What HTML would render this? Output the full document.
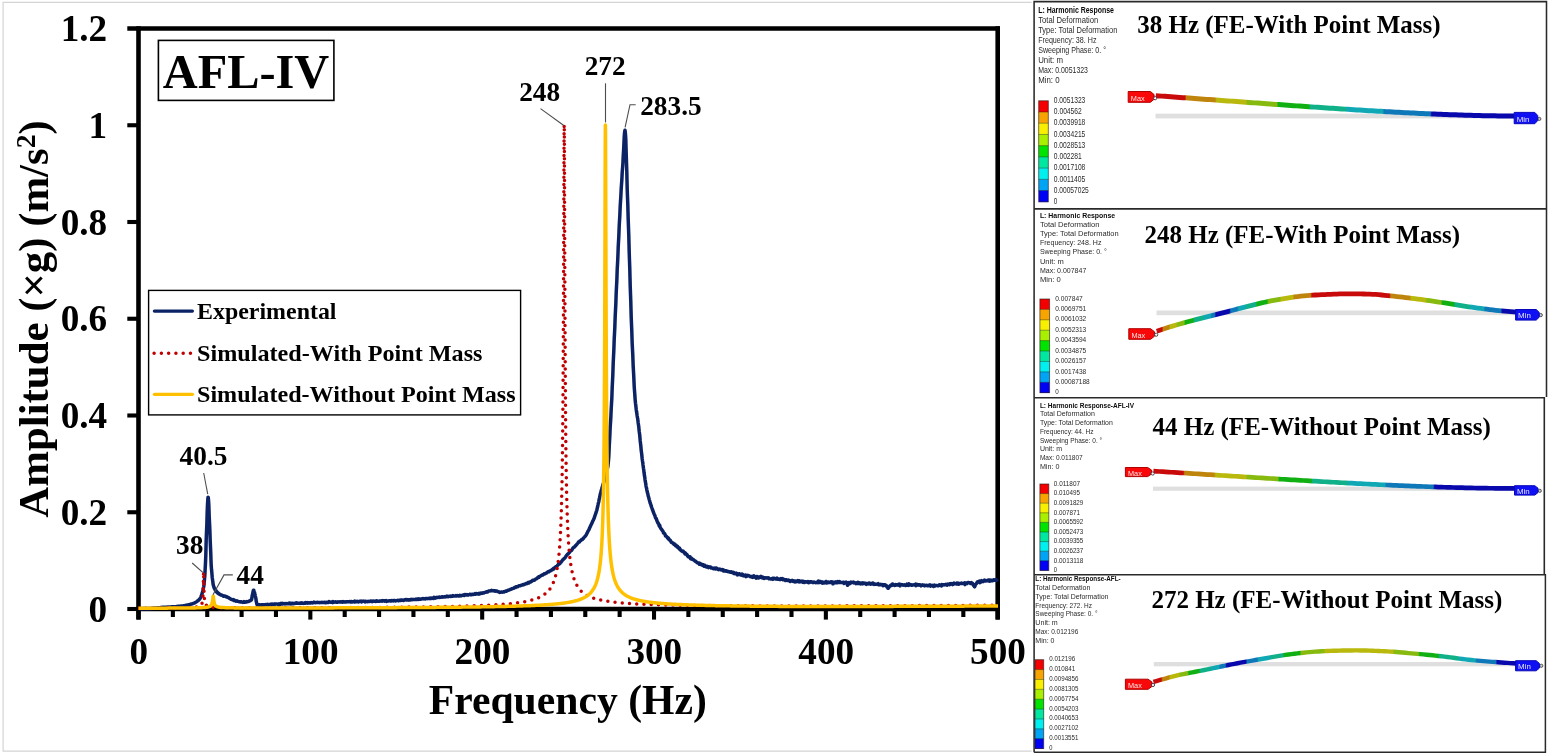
<!DOCTYPE html>
<html lang="en">
<head>
<meta charset="utf-8">
<title>AFL-IV frequency response</title>
<style>
html,body{margin:0;padding:0;background:#fff;}
body{width:1548px;height:755px;overflow:hidden;}
svg{display:block;}
</style>
</head>
<body>
<svg width="1548" height="755" viewBox="0 0 1548 755">
<rect x="0" y="0" width="1548" height="755" fill="#ffffff"/>
<path d="M1031.6 2.4H3.1V751.1H1031.6" fill="none" stroke="#d4d4d4" stroke-width="1.2"/>
<g stroke="#000" fill="none" stroke-width="4.6" stroke-linecap="butt">
<path d="M127.3 28.5H1000"/>
<path d="M138.5 26.2V619.6"/>
<path d="M997.7 26.2V619.4"/>
</g>
<path d="M136.2 609H1000" stroke="#000" stroke-width="4.6" fill="none"/>
<g fill="none" stroke-linejoin="round">
<path d="M138.5 609.1L139.0 609.0L139.5 609.0L140.0 609.0L140.5 608.9L141.0 608.9L141.5 608.9L142.0 608.8L142.5 608.9L143.0 608.9L143.5 608.8L144.0 608.8L144.5 608.8L145.0 608.8L145.5 608.8L146.0 608.7L146.5 608.8L147.0 608.7L147.5 608.7L148.0 608.6L148.5 608.8L149.0 608.7L149.5 608.6L150.0 608.7L150.5 608.6L151.0 608.5L151.5 608.5L152.0 608.3L152.5 608.5L153.0 608.3L153.5 608.3L154.0 608.3L154.5 608.1L155.0 608.2L155.5 608.0L156.0 608.0L156.5 607.9L157.0 608.0L157.5 607.9L158.0 607.8L158.5 607.8L159.0 607.7L159.5 607.7L160.0 607.6L160.5 607.5L161.0 607.4L161.5 607.5L162.0 607.6L162.5 607.4L163.0 607.3L163.5 607.4L164.0 607.3L164.5 607.3L165.0 607.3L165.5 607.2L166.0 607.2L166.5 607.1L167.0 607.2L167.5 607.1L168.0 607.1L168.5 607.0L169.0 606.9L169.5 607.0L170.0 607.0L170.5 606.9L171.0 606.9L171.5 606.8L172.0 606.8L172.5 606.8L173.0 606.7L173.5 606.8L174.0 606.7L174.5 606.7L175.0 606.7L175.5 606.7L176.0 606.6L176.5 606.5L177.0 606.5L177.5 606.4L178.0 606.3L178.5 606.4L179.0 606.3L179.5 606.3L180.0 606.2L180.5 606.1L181.0 606.1L181.5 606.0L182.0 606.0L182.5 606.0L183.0 605.9L183.5 605.8L184.0 605.7L184.5 605.6L185.0 605.5L185.5 605.4L186.0 605.3L186.5 605.4L187.0 605.2L187.5 605.0L188.0 604.9L188.5 604.8L189.0 604.7L189.5 604.6L190.0 604.4L190.5 604.3L191.0 604.1L191.5 604.1L192.0 603.9L192.5 603.8L193.0 603.5L193.5 603.3L194.0 603.2L194.5 603.0L195.0 602.7L195.5 602.3L196.0 602.1L196.5 601.8L196.8 601.6L197.0 601.4L197.2 601.3L197.5 601.0L197.8 600.8L198.0 600.7L198.2 600.4L198.5 600.2L198.8 600.0L199.0 599.8L199.2 599.5L199.5 599.3L199.8 598.9L200.0 598.6L200.2 598.2L200.5 597.7L200.8 597.3L201.0 596.7L201.2 596.0L201.5 595.5L201.8 594.6L202.0 593.8L202.2 593.1L202.5 592.1L202.8 591.2L203.0 590.0L203.2 588.9L203.5 587.6L203.8 586.3L204.0 584.5L204.2 582.1L204.5 579.3L204.8 576.0L205.0 572.4L205.2 568.4L205.5 562.9L205.8 555.7L206.0 547.7L206.2 539.7L206.5 532.1L206.8 525.7L207.0 518.6L207.2 511.3L207.5 504.7L207.8 499.8L208.0 497.2L208.2 497.2L208.5 499.9L208.8 504.3L209.0 509.9L209.2 516.2L209.5 522.5L209.8 528.5L210.0 534.1L210.2 540.6L210.5 547.4L210.8 554.2L211.0 560.3L211.2 565.5L211.5 569.3L211.8 572.2L212.0 574.7L212.2 577.2L212.5 579.4L212.8 581.4L213.0 583.2L213.2 584.7L213.5 585.9L213.8 586.7L214.0 587.4L214.2 588.0L214.5 588.5L214.8 589.1L215.0 589.5L215.2 589.7L215.5 590.6L215.8 590.5L216.0 590.6L216.2 591.8L216.5 591.3L216.8 592.1L217.0 592.5L217.2 592.5L217.5 592.4L217.8 593.2L218.0 592.8L218.2 593.0L218.5 593.4L218.8 593.9L219.0 593.9L219.2 594.2L219.5 594.1L219.8 594.3L220.0 594.2L220.2 594.5L220.5 594.8L220.8 594.7L221.0 595.0L221.2 594.9L221.5 595.0L221.8 595.2L222.0 595.3L222.5 595.6L223.0 595.7L223.5 596.2L224.0 595.9L224.5 596.0L225.0 596.0L225.5 596.4L226.0 596.7L226.5 596.6L227.0 596.9L227.5 597.3L228.0 597.4L228.5 597.5L229.0 598.1L229.5 598.2L230.0 598.6L230.5 599.0L231.0 599.3L231.5 599.3L232.0 599.5L232.5 599.9L233.0 600.0L233.5 599.7L234.0 600.6L234.5 600.5L235.0 600.8L235.5 600.5L236.0 601.2L236.5 600.9L237.0 601.1L237.5 601.0L238.0 601.4L238.5 601.5L239.0 601.6L239.5 601.8L240.0 601.8L240.5 602.1L241.0 601.8L241.5 601.8L242.0 602.0L242.5 602.2L243.0 602.4L243.5 602.3L244.0 601.7L244.5 602.1L245.0 602.3L245.5 602.0L246.0 601.8L246.5 601.9L247.0 601.6L247.5 601.7L248.0 601.5L248.5 601.6L249.0 601.2L249.5 600.8L250.0 600.8L250.5 600.7L250.8 600.2L251.0 600.1L251.2 599.6L251.5 599.8L251.8 598.5L252.0 596.9L252.2 595.6L252.5 594.4L252.8 593.2L253.0 591.8L253.2 591.0L253.5 590.2L253.8 590.2L254.0 591.0L254.2 591.6L254.5 592.3L254.8 593.7L255.0 594.3L255.2 595.5L255.5 596.9L255.8 598.2L256.0 599.2L256.2 601.2L256.5 602.3L256.8 603.9L257.0 604.7L257.2 604.7L257.5 605.1L257.8 605.2L258.0 605.0L258.2 605.0L258.5 605.3L258.8 604.7L259.0 604.7L259.5 604.8L260.0 604.7L260.5 605.3L261.0 605.0L261.5 604.7L262.0 604.8L262.5 605.5L263.0 604.7L263.5 604.7L264.0 604.9L264.5 604.9L265.0 604.8L265.5 604.6L266.0 604.5L266.5 604.8L267.0 604.7L267.5 604.3L268.0 604.9L268.5 604.8L269.0 604.5L269.5 604.5L270.0 604.5L270.5 604.3L271.0 604.1L271.5 604.5L272.0 604.1L272.5 604.4L273.0 604.0L273.5 604.3L274.0 604.2L274.5 604.6L275.0 604.0L275.5 603.9L276.0 604.0L276.5 603.9L277.0 604.0L277.5 604.2L278.0 604.2L278.5 604.4L279.0 603.8L279.5 604.6L280.0 604.4L280.5 603.9L281.0 603.4L281.5 603.9L282.0 603.9L282.5 603.4L283.0 603.9L283.5 603.8L284.0 603.6L284.5 603.9L285.0 604.0L285.5 603.6L286.0 603.8L286.5 603.6L287.0 603.5L287.5 603.7L288.0 603.8L288.5 603.5L289.0 603.1L289.5 603.7L290.0 603.2L290.5 603.6L291.0 603.9L291.5 603.5L292.0 603.2L292.5 603.2L293.0 603.7L293.5 603.4L294.0 603.5L294.5 603.6L295.0 603.4L295.5 603.3L296.0 603.1L296.5 602.7L297.0 603.0L297.5 603.3L298.0 603.2L298.5 603.3L299.0 603.2L299.5 603.3L300.0 603.4L300.5 603.0L301.0 603.1L301.5 602.8L302.0 603.3L302.5 603.1L303.0 603.2L303.5 603.4L304.0 603.3L304.5 603.0L305.0 603.2L305.5 602.7L306.0 603.1L306.5 603.0L307.0 602.6L307.5 603.2L308.0 602.8L308.5 603.1L309.0 602.8L309.5 603.1L310.0 603.1L310.5 602.7L311.0 602.5L311.5 602.8L312.0 603.0L312.5 602.7L313.0 602.6L313.5 602.8L314.0 602.1L314.5 602.6L315.0 602.4L315.5 602.7L316.0 602.5L316.5 602.4L317.0 602.6L317.5 602.3L318.0 602.6L318.5 602.4L319.0 602.5L319.5 602.4L320.0 602.7L320.5 602.5L321.0 602.6L321.5 602.6L322.0 602.3L322.5 602.6L323.0 602.5L323.5 602.5L324.0 602.3L324.5 602.3L325.0 602.6L325.5 602.8L326.0 602.2L326.5 602.5L327.0 602.2L327.5 602.5L328.0 602.4L328.5 602.5L329.0 601.6L329.5 602.1L330.0 602.0L330.5 602.2L331.0 602.0L331.5 602.1L332.0 602.3L332.5 602.6L333.0 601.5L333.5 602.1L334.0 602.2L334.5 602.1L335.0 602.0L335.5 601.8L336.0 601.9L336.5 602.2L337.0 602.3L337.5 602.1L338.0 601.8L338.5 602.0L339.0 601.9L339.5 602.1L340.0 602.0L340.5 601.8L341.0 602.0L341.5 601.7L342.0 602.1L342.5 602.2L343.0 601.6L343.5 602.0L344.0 601.7L344.5 602.1L345.0 602.0L345.5 601.8L346.0 602.0L346.5 601.7L347.0 601.7L347.5 601.7L348.0 601.8L348.5 601.7L349.0 601.8L349.5 601.6L350.0 601.9L350.5 602.0L351.0 601.6L351.5 601.4L352.0 601.9L352.5 601.9L353.0 601.7L353.5 601.4L354.0 601.7L354.5 602.0L355.0 601.2L355.5 601.7L356.0 601.6L356.5 601.4L357.0 601.7L357.5 601.3L358.0 601.7L358.5 601.9L359.0 601.6L359.5 601.4L360.0 601.2L360.5 601.3L361.0 601.1L361.5 601.9L362.0 601.5L362.5 601.3L363.0 601.2L363.5 601.3L364.0 601.4L364.5 601.2L365.0 601.8L365.5 601.3L366.0 601.3L366.5 601.5L367.0 601.7L367.5 601.7L368.0 601.3L368.5 601.4L369.0 601.4L369.5 601.5L370.0 601.4L370.5 601.1L371.0 601.1L371.5 601.4L372.0 601.0L372.5 601.6L373.0 601.3L373.5 601.0L374.0 601.2L374.5 601.1L375.0 601.2L375.5 601.4L376.0 600.9L376.5 600.8L377.0 601.3L377.5 601.1L378.0 601.2L378.5 601.2L379.0 601.1L379.5 601.3L380.0 600.9L380.5 601.1L381.0 600.9L381.5 600.8L382.0 601.2L382.5 601.1L383.0 600.6L383.5 600.7L384.0 601.0L384.5 601.2L385.0 600.8L385.5 600.9L386.0 600.6L386.5 601.4L387.0 601.0L387.5 601.0L388.0 601.0L388.5 601.0L389.0 600.9L389.5 600.7L390.0 600.9L390.5 600.7L391.0 601.0L391.5 600.5L392.0 600.5L392.5 600.8L393.0 600.9L393.5 600.6L394.0 600.4L394.5 600.5L395.0 600.4L395.5 600.9L396.0 600.7L396.5 600.7L397.0 600.5L397.5 600.3L398.0 600.6L398.5 600.7L399.0 600.4L399.5 600.3L400.0 600.5L400.5 600.1L401.0 600.4L401.5 600.0L402.0 599.9L402.5 600.2L403.0 600.2L403.5 600.5L404.0 600.0L404.5 600.0L405.0 599.7L405.5 599.5L406.0 599.5L406.5 600.0L407.0 599.6L407.5 600.1L408.0 600.1L408.5 599.7L409.0 600.1L409.5 599.8L410.0 599.9L410.5 599.6L411.0 599.8L411.5 599.4L412.0 599.7L412.5 599.4L413.0 599.5L413.5 599.6L414.0 599.5L414.5 599.4L415.0 599.5L415.5 599.5L416.0 599.0L416.5 599.4L417.0 599.4L417.5 599.1L418.0 599.3L418.5 598.9L419.0 599.4L419.5 599.0L420.0 599.0L420.5 599.3L421.0 599.0L421.5 599.1L422.0 598.7L422.5 598.8L423.0 598.5L423.5 598.8L424.0 599.0L424.5 598.8L425.0 598.9L425.5 598.4L426.0 598.4L426.5 598.5L427.0 598.7L427.5 598.6L428.0 598.4L428.5 598.5L429.0 598.3L429.5 598.3L430.0 598.6L430.5 598.1L431.0 598.2L431.5 598.5L432.0 598.1L432.5 598.2L433.0 597.9L433.5 598.4L434.0 597.4L434.5 597.6L435.0 597.6L435.5 598.1L436.0 597.8L436.5 597.6L437.0 597.3L437.5 597.6L438.0 597.5L438.5 597.3L439.0 597.1L439.5 597.1L440.0 597.4L440.5 597.3L441.0 597.2L441.5 597.1L442.0 596.7L442.5 597.1L443.0 596.8L443.5 597.0L444.0 597.0L444.5 596.7L445.0 596.6L445.5 597.0L446.0 596.8L446.5 596.5L447.0 596.0L447.5 596.6L448.0 596.7L448.5 596.7L449.0 596.3L449.5 596.3L450.0 596.3L450.5 596.5L451.0 596.0L451.5 596.2L452.0 596.0L452.5 596.2L453.0 595.7L453.5 596.1L454.0 595.9L454.5 595.9L455.0 596.0L455.5 596.1L456.0 595.5L456.5 596.0L457.0 595.9L457.5 595.6L458.0 596.0L458.5 595.7L459.0 595.9L459.5 595.4L460.0 595.3L460.5 595.7L461.0 595.9L461.5 595.5L462.0 595.5L462.5 595.2L463.0 595.0L463.5 595.2L464.0 595.5L464.5 594.7L465.0 595.0L465.5 594.6L466.0 595.0L466.5 595.1L467.0 594.6L467.5 594.8L468.0 595.1L468.5 594.7L469.0 594.4L469.5 594.4L470.0 594.2L470.5 594.7L471.0 594.3L471.5 594.7L472.0 594.6L472.5 594.2L473.0 594.2L473.5 594.4L474.0 594.2L474.5 594.2L475.0 593.7L475.5 594.2L476.0 593.7L476.5 593.4L477.0 593.7L477.5 593.8L478.0 594.1L478.5 593.5L479.0 593.3L479.5 594.0L480.0 593.5L480.5 593.3L481.0 593.0L481.5 593.0L482.0 593.4L482.5 593.0L483.0 592.8L483.5 592.7L484.0 593.0L484.5 592.4L485.0 592.5L485.5 592.3L486.0 592.1L486.5 591.7L487.0 591.9L487.5 592.0L488.0 591.5L488.5 591.1L489.0 590.9L489.5 591.1L490.0 590.9L490.5 590.8L491.0 590.8L491.5 590.4L492.0 590.8L492.5 590.7L493.0 590.6L493.5 590.7L494.0 590.9L494.5 590.8L495.0 590.7L495.5 591.2L496.0 591.0L496.5 591.1L497.0 591.1L497.5 591.6L498.0 591.5L498.5 591.7L499.0 592.1L499.5 592.1L500.0 592.4L500.5 592.3L501.0 592.1L501.5 592.1L502.0 592.0L502.5 592.2L503.0 592.0L503.5 591.8L504.0 592.0L504.5 591.7L505.0 591.5L505.5 591.1L506.0 591.3L506.5 591.1L507.0 590.9L507.5 590.6L508.0 590.3L508.5 590.2L509.0 590.1L509.5 589.8L510.0 589.6L510.5 589.3L511.0 589.3L511.5 589.0L512.0 588.6L512.5 588.7L513.0 588.5L513.5 588.3L514.0 587.9L514.5 587.6L515.0 587.2L515.5 587.5L516.0 586.7L516.5 586.9L517.0 586.7L517.5 586.8L518.0 586.4L518.5 586.1L519.0 585.8L519.5 585.8L520.0 585.8L520.5 585.6L521.0 585.4L521.5 585.1L522.0 585.0L522.5 585.1L523.0 584.5L523.5 584.6L524.0 584.7L524.5 584.3L525.0 583.9L525.5 584.0L526.0 583.5L526.5 583.4L527.0 583.6L527.5 583.5L528.0 582.5L528.5 582.8L529.0 582.9L529.5 582.1L530.0 582.1L530.5 582.1L531.0 581.5L531.5 581.4L532.0 581.1L532.5 580.4L533.0 580.6L533.5 580.3L534.0 580.2L534.5 580.2L535.0 579.6L535.5 579.1L536.0 579.0L536.5 578.6L537.0 578.5L537.5 577.7L538.0 577.4L538.5 576.9L539.0 577.2L539.5 576.7L540.0 576.3L540.5 576.0L541.0 575.7L541.5 575.3L542.0 575.2L542.5 574.8L543.0 575.0L543.5 574.4L544.0 573.9L544.5 573.7L545.0 573.8L545.5 573.4L546.0 573.1L546.5 573.0L547.0 572.9L547.5 572.1L548.0 571.9L548.5 571.5L549.0 571.7L549.5 571.2L550.0 570.9L550.5 570.5L551.0 570.6L551.5 570.0L552.0 569.6L552.5 569.7L553.0 568.8L553.5 568.4L554.0 568.8L554.5 567.8L555.0 567.4L555.5 566.9L556.0 566.6L556.5 566.4L557.0 566.0L557.5 565.5L558.0 564.9L558.5 564.2L559.0 564.1L559.5 563.9L560.0 563.3L560.5 562.5L561.0 562.2L561.5 561.4L562.0 560.9L562.5 560.1L563.0 559.7L563.5 559.2L564.0 558.6L564.5 558.2L565.0 557.9L565.5 557.1L566.0 556.2L566.5 555.5L567.0 555.0L567.5 554.3L568.0 554.0L568.5 553.5L569.0 552.9L569.5 552.3L570.0 551.8L570.5 551.1L571.0 550.4L571.5 550.4L572.0 549.7L572.5 548.7L573.0 548.1L573.5 547.6L574.0 547.2L574.5 546.9L575.0 546.3L575.5 545.8L576.0 545.2L576.5 544.7L577.0 544.1L577.5 543.5L578.0 542.9L578.5 542.0L579.0 541.9L579.5 541.9L580.0 540.9L580.5 540.5L581.0 540.5L581.5 539.8L582.0 539.3L582.5 539.3L583.0 538.7L583.5 538.2L584.0 537.4L584.5 537.1L585.0 536.4L585.5 535.8L586.0 535.2L586.5 534.3L587.0 533.2L587.5 532.4L588.0 531.1L588.5 530.5L589.0 529.5L589.5 528.2L590.0 527.1L590.5 526.2L591.0 524.9L591.5 524.1L592.0 523.0L592.5 521.6L593.0 520.7L593.5 519.7L594.0 518.5L594.5 517.2L595.0 515.5L595.5 514.1L596.0 512.6L596.5 511.1L596.8 510.4L597.0 509.4L597.2 508.4L597.5 507.3L597.8 505.9L598.0 504.9L598.2 503.7L598.5 502.8L598.8 501.6L599.0 500.2L599.2 499.1L599.5 498.0L599.8 496.7L600.0 495.6L600.2 494.5L600.5 493.6L600.8 492.4L601.0 491.7L601.2 490.6L601.5 489.8L601.8 489.1L602.0 488.0L602.2 487.1L602.5 486.5L602.8 485.5L603.0 484.8L603.2 484.0L603.5 483.3L603.8 482.3L604.0 481.6L604.2 480.8L604.5 480.0L604.8 478.7L605.0 478.2L605.2 477.2L605.5 476.0L605.8 475.1L606.0 474.5L606.2 473.5L606.5 472.7L606.8 471.8L607.0 470.6L607.2 469.5L607.5 468.2L607.8 466.8L608.0 465.3L608.2 463.4L608.5 460.4L608.8 456.6L609.0 452.3L609.2 447.1L609.5 441.8L609.8 436.5L610.0 431.9L610.2 427.2L610.5 422.7L610.8 418.1L611.0 413.6L611.2 409.0L611.5 403.9L611.8 398.8L612.0 393.5L612.2 387.6L612.5 381.6L612.8 375.5L613.0 369.2L613.2 363.3L613.5 357.0L613.8 351.2L614.0 345.5L614.2 339.4L614.5 333.8L614.8 327.9L615.0 321.9L615.2 316.2L615.5 310.3L615.8 304.6L616.0 298.8L616.2 292.7L616.5 287.0L616.8 281.3L617.0 275.6L617.2 269.5L617.5 264.3L617.8 258.5L618.0 253.2L618.2 247.4L618.5 242.0L618.8 236.7L619.0 231.6L619.2 226.3L619.5 220.9L619.8 216.3L620.0 211.1L620.2 206.4L620.5 201.7L620.8 197.1L621.0 192.8L621.2 188.6L621.5 184.5L621.8 180.6L622.0 176.6L622.2 172.5L622.5 168.8L622.8 165.1L623.0 161.1L623.2 156.6L623.5 151.8L623.8 146.7L624.0 141.7L624.2 137.2L624.5 133.3L624.8 130.9L625.0 130.2L625.2 131.4L625.5 134.7L625.8 139.4L626.0 146.3L626.2 153.7L626.5 162.6L626.8 171.5L627.0 180.4L627.2 189.0L627.5 197.2L627.8 204.3L628.0 211.9L628.2 219.6L628.5 227.6L628.8 235.7L629.0 243.9L629.2 252.1L629.5 260.7L629.8 269.1L630.0 277.4L630.2 285.8L630.5 293.9L630.8 301.7L631.0 309.6L631.2 317.1L631.5 324.2L631.8 331.3L632.0 337.7L632.2 343.8L632.5 349.6L632.8 355.4L633.0 361.0L633.2 366.7L633.5 371.7L633.8 376.9L634.0 381.6L634.2 386.3L634.5 390.6L634.8 394.4L635.0 397.6L635.2 400.5L635.5 403.2L635.8 405.4L636.0 407.6L636.2 409.3L636.5 411.4L636.8 413.1L637.0 414.7L637.2 416.1L637.5 417.8L637.8 419.5L638.0 421.2L638.2 423.0L638.5 425.0L638.8 427.1L639.0 429.4L639.2 431.3L639.5 433.6L639.8 436.0L640.0 438.4L640.2 440.7L640.5 443.4L640.8 445.7L641.0 448.0L641.2 450.3L641.5 452.6L641.8 454.9L642.0 457.0L642.2 459.0L642.5 461.1L642.8 462.7L643.0 465.0L643.2 466.3L643.5 468.5L643.8 470.3L644.0 472.3L644.2 473.8L644.5 476.0L644.8 477.3L645.0 479.4L645.2 480.9L645.5 482.4L645.8 484.0L646.0 485.7L646.2 486.9L646.5 487.9L646.8 489.6L647.0 490.6L647.2 491.5L647.5 492.9L647.8 493.7L648.0 494.9L648.2 496.0L648.5 496.8L648.8 497.9L649.0 498.7L649.2 499.7L649.5 500.5L649.8 501.4L650.0 502.5L650.2 503.1L650.5 503.7L650.8 504.6L651.0 505.3L651.2 506.1L651.5 506.9L651.8 507.6L652.0 508.3L652.2 508.9L652.5 509.8L652.8 510.5L653.0 511.0L653.2 511.7L653.5 512.4L653.8 513.2L654.0 513.8L654.2 514.2L654.5 514.9L654.8 515.4L655.0 515.8L655.2 516.7L655.5 517.6L655.8 518.3L656.0 518.3L656.2 518.5L656.5 519.7L656.8 520.1L657.0 520.8L657.2 521.3L657.5 522.0L657.8 522.5L658.0 523.1L658.2 523.0L658.5 524.1L658.8 524.0L659.0 524.7L659.2 525.9L659.5 525.7L659.8 525.6L660.0 527.1L660.5 527.8L661.0 528.7L661.5 529.2L662.0 530.1L662.5 530.7L663.0 531.3L663.5 532.9L664.0 532.9L664.5 533.6L665.0 534.3L665.5 536.0L666.0 536.2L666.5 536.4L667.0 537.1L667.5 537.9L668.0 538.6L668.5 538.2L669.0 539.7L669.5 539.8L670.0 540.1L670.5 540.7L671.0 541.7L671.5 542.5L672.0 542.4L672.5 543.0L673.0 542.9L673.5 543.8L674.0 544.4L674.5 543.9L675.0 544.7L675.5 545.6L676.0 545.0L676.5 546.0L677.0 546.8L677.5 546.3L678.0 547.2L678.5 547.8L679.0 548.6L679.5 548.2L680.0 549.6L680.5 549.7L681.0 550.5L681.5 550.9L682.0 551.0L682.5 551.5L683.0 551.0L683.5 551.6L684.0 552.2L684.5 552.9L685.0 553.8L685.5 553.2L686.0 554.2L686.5 554.2L687.0 554.5L687.5 556.1L688.0 556.0L688.5 557.0L689.0 557.2L689.5 556.7L690.0 556.7L690.5 558.7L691.0 558.0L691.5 558.1L692.0 559.2L692.5 559.3L693.0 559.3L693.5 559.8L694.0 560.3L694.5 560.6L695.0 561.2L695.5 561.1L696.0 561.5L696.5 562.2L697.0 562.4L697.5 563.0L698.0 562.8L698.5 563.1L699.0 563.0L699.5 564.3L700.0 563.4L700.5 564.3L701.0 564.1L701.5 564.8L702.0 565.2L702.5 564.5L703.0 565.2L703.5 564.8L704.0 566.2L704.5 565.7L705.0 565.4L705.5 565.9L706.0 566.8L706.5 567.0L707.0 567.1L707.5 566.4L708.0 566.8L708.5 567.6L709.0 566.8L709.5 567.1L710.0 566.9L710.5 567.0L711.0 568.0L711.5 567.9L712.0 567.9L712.5 568.1L713.0 568.4L713.5 568.7L714.0 568.2L714.5 568.1L715.0 568.0L715.5 568.9L716.0 568.4L716.5 568.1L717.0 568.7L717.5 568.9L718.0 569.4L718.5 569.6L719.0 569.0L719.5 569.1L720.0 569.4L720.5 569.2L721.0 569.7L721.5 570.1L722.0 570.1L722.5 569.5L723.0 569.8L723.5 571.0L724.0 570.2L724.5 571.0L725.0 571.1L725.5 570.9L726.0 570.7L726.5 571.3L727.0 571.0L727.5 571.5L728.0 571.7L728.5 571.5L729.0 571.8L729.5 571.9L730.0 571.7L730.5 572.3L731.0 572.2L731.5 571.9L732.0 572.6L732.5 572.7L733.0 572.7L733.5 572.3L734.0 573.5L734.5 573.6L735.0 573.7L735.5 573.7L736.0 573.2L736.5 573.8L737.0 573.5L737.5 574.9L738.0 573.9L738.5 574.5L739.0 573.7L739.5 573.9L740.0 574.3L740.5 574.9L741.0 574.9L741.5 574.9L742.0 574.1L742.5 575.4L743.0 574.7L743.5 575.8L744.0 576.0L744.5 575.6L745.0 575.8L745.5 575.0L746.0 576.6L746.5 575.7L747.0 576.1L747.5 575.4L748.0 575.8L748.5 575.5L749.0 575.9L749.5 576.1L750.0 576.3L750.5 576.8L751.0 576.5L751.5 576.5L752.0 576.5L752.5 577.3L753.0 576.4L753.5 577.1L754.0 575.9L754.5 576.4L755.0 577.0L755.5 576.9L756.0 578.2L756.5 578.1L757.0 576.5L757.5 576.7L758.0 577.2L758.5 578.0L759.0 577.8L759.5 577.5L760.0 576.9L760.5 577.1L761.0 576.4L761.5 576.9L762.0 577.8L762.5 578.0L763.0 577.2L763.5 577.8L764.0 578.4L764.5 577.9L765.0 577.7L765.5 578.1L766.0 578.1L766.5 578.0L767.0 577.8L767.5 577.9L768.0 578.1L768.5 577.9L769.0 578.7L769.5 578.5L770.0 578.6L770.5 579.0L771.0 578.9L771.5 578.9L772.0 578.5L772.5 578.3L773.0 579.3L773.5 578.2L774.0 578.2L774.5 578.2L775.0 578.7L775.5 578.8L776.0 579.1L776.5 578.6L777.0 578.0L777.5 578.9L778.0 579.2L778.5 578.9L779.0 578.9L779.5 579.2L780.0 579.6L780.5 579.1L781.0 578.6L781.5 579.0L782.0 579.3L782.5 578.7L783.0 579.8L783.5 579.2L784.0 579.8L784.5 579.8L785.0 579.7L785.5 580.5L786.0 579.7L786.5 579.8L787.0 580.3L787.5 580.6L788.0 580.3L788.5 580.0L789.0 580.8L789.5 580.8L790.0 581.5L790.5 580.7L791.0 580.9L791.5 580.7L792.0 580.4L792.5 581.1L793.0 581.5L793.5 580.8L794.0 581.0L794.5 580.9L795.0 581.9L795.5 581.2L796.0 581.7L796.5 581.2L797.0 581.6L797.5 581.4L798.0 580.7L798.5 581.7L799.0 581.9L799.5 580.9L800.0 581.7L800.5 581.6L801.0 581.4L801.5 581.7L802.0 581.1L802.5 582.0L803.0 582.4L803.5 581.4L804.0 581.9L804.5 582.5L805.0 582.0L805.5 581.8L806.0 581.7L806.5 582.1L807.0 582.0L807.5 582.3L808.0 581.5L808.5 582.6L809.0 582.0L809.5 582.4L810.0 581.9L810.5 581.7L811.0 582.0L811.5 581.8L812.0 582.1L812.5 582.5L813.0 582.7L813.5 582.3L814.0 582.0L814.5 582.1L815.0 582.5L815.5 582.7L816.0 582.2L816.5 582.2L817.0 582.0L817.5 582.4L818.0 582.7L818.5 581.1L819.0 582.4L819.5 582.1L820.0 581.4L820.5 582.4L821.0 582.3L821.5 582.4L822.0 581.8L822.5 583.2L823.0 582.3L823.5 582.2L824.0 582.9L824.5 582.6L825.0 582.6L825.5 582.8L826.0 581.5L826.5 583.0L827.0 582.2L827.5 582.4L828.0 582.7L828.5 582.0L829.0 582.4L829.5 582.6L830.0 582.3L830.5 582.5L831.0 581.7L831.5 581.8L832.0 581.8L832.5 582.4L833.0 583.8L833.5 582.4L834.0 582.2L834.5 582.3L835.0 582.7L835.5 582.6L836.0 581.8L836.5 582.7L837.0 582.3L837.5 582.6L838.0 581.5L838.5 581.7L839.0 582.5L839.5 581.6L840.0 582.5L840.5 582.4L841.0 582.4L841.5 582.5L842.0 582.4L842.5 582.5L843.0 582.2L843.5 582.3L844.0 583.5L844.5 582.8L845.0 582.6L845.5 582.5L846.0 582.1L846.5 582.6L847.0 583.6L847.5 585.3L848.0 584.7L848.5 583.1L849.0 582.6L849.5 582.9L850.0 583.6L850.5 583.0L851.0 582.2L851.5 582.5L852.0 582.3L852.5 582.6L853.0 582.3L853.5 582.1L854.0 582.9L854.5 582.8L855.0 582.7L855.5 583.0L856.0 583.7L856.5 582.9L857.0 582.8L857.5 583.3L858.0 582.4L858.5 583.4L859.0 582.8L859.5 582.8L860.0 583.2L860.5 583.9L861.0 583.0L861.5 583.7L862.0 583.5L862.5 582.8L863.0 583.8L863.5 583.1L864.0 582.9L864.5 583.2L865.0 583.3L865.5 583.9L866.0 583.4L866.5 584.3L867.0 583.8L867.5 583.5L868.0 583.5L868.5 583.9L869.0 583.0L869.5 583.0L870.0 583.5L870.5 584.2L871.0 584.0L871.5 584.0L872.0 583.9L872.5 583.1L873.0 583.9L873.5 583.3L874.0 584.4L874.5 584.1L875.0 584.1L875.5 584.3L876.0 584.3L876.5 584.3L877.0 584.4L877.5 584.0L878.0 583.7L878.5 584.5L879.0 584.9L879.5 584.8L880.0 584.3L880.5 584.7L881.0 584.4L881.5 584.7L882.0 584.4L882.5 584.7L883.0 585.6L883.5 585.1L884.0 585.5L884.5 584.7L885.0 584.8L885.5 585.1L886.0 585.5L886.5 585.7L887.0 587.0L887.5 587.1L888.0 588.3L888.5 588.1L889.0 586.8L889.5 586.8L890.0 585.8L890.5 585.8L891.0 585.1L891.5 585.4L892.0 585.4L892.5 584.0L893.0 584.3L893.5 585.1L894.0 585.0L894.5 585.4L895.0 585.1L895.5 584.5L896.0 585.1L896.5 584.7L897.0 584.9L897.5 584.8L898.0 585.1L898.5 584.4L899.0 584.6L899.5 584.1L900.0 585.9L900.5 584.6L901.0 584.7L901.5 584.5L902.0 584.7L902.5 584.8L903.0 585.2L903.5 585.1L904.0 585.1L904.5 584.8L905.0 585.0L905.5 585.5L906.0 585.0L906.5 585.1L907.0 584.2L907.5 585.2L908.0 585.1L908.5 585.5L909.0 583.9L909.5 585.0L910.0 584.9L910.5 585.0L911.0 584.7L911.5 585.1L912.0 585.3L912.5 585.0L913.0 584.9L913.5 584.9L914.0 584.8L914.5 585.0L915.0 584.7L915.5 584.2L916.0 585.6L916.5 584.3L917.0 585.0L917.5 584.6L918.0 585.0L918.5 584.7L919.0 585.1L919.5 584.8L920.0 584.7L920.5 585.3L921.0 585.8L921.5 585.4L922.0 585.3L922.5 584.9L923.0 585.3L923.5 585.5L924.0 585.1L924.5 585.8L925.0 585.4L925.5 585.6L926.0 585.3L926.5 585.3L927.0 585.6L927.5 585.7L928.0 585.7L928.5 585.2L929.0 585.3L929.5 585.6L930.0 584.9L930.5 586.1L931.0 585.8L931.5 585.7L932.0 585.4L932.5 586.0L933.0 585.6L933.5 586.4L934.0 585.8L934.5 585.1L935.0 586.0L935.5 585.4L936.0 585.4L936.5 585.5L937.0 585.5L937.5 585.7L938.0 585.8L938.5 585.7L939.0 585.1L939.5 584.8L940.0 585.0L940.5 585.4L941.0 585.6L941.5 585.9L942.0 584.6L942.5 585.1L943.0 584.9L943.5 584.8L944.0 584.9L944.5 584.7L945.0 584.7L945.5 584.4L946.0 584.8L946.5 585.0L947.0 585.2L947.5 584.2L948.0 584.0L948.5 584.2L949.0 584.0L949.5 584.6L950.0 583.9L950.5 584.2L951.0 583.6L951.5 583.9L952.0 584.1L952.5 584.6L953.0 583.7L953.5 584.1L954.0 583.0L954.5 583.4L955.0 583.5L955.5 583.6L956.0 583.9L956.5 584.0L957.0 583.0L957.5 583.8L958.0 583.2L958.5 584.3L959.0 583.7L959.5 583.6L960.0 583.4L960.5 583.4L961.0 583.4L961.5 583.1L962.0 583.6L962.5 583.4L963.0 583.6L963.5 583.2L964.0 583.5L964.5 582.9L965.0 584.6L965.5 582.9L966.0 582.9L966.5 583.5L967.0 583.6L967.5 582.7L968.0 582.4L968.5 582.5L969.0 582.6L969.5 582.7L970.0 582.9L970.5 583.4L971.0 583.4L971.5 582.7L972.0 583.2L972.5 583.4L973.0 584.5L973.5 585.2L974.0 586.1L974.5 586.8L975.0 586.2L975.5 584.2L976.0 584.1L976.5 583.6L977.0 582.5L977.5 581.8L978.0 582.0L978.5 581.9L979.0 582.1L979.5 581.1L980.0 582.6L980.5 582.4L981.0 581.1L981.5 580.5L982.0 581.1L982.5 581.3L983.0 581.6L983.5 581.2L984.0 580.8L984.5 580.1L985.0 581.0L985.5 581.1L986.0 580.6L986.5 580.8L987.0 580.8L987.5 580.6L988.0 580.2L988.5 580.8L989.0 580.0L989.5 581.1L990.0 580.2L990.5 580.8L991.0 580.2L991.5 580.7L992.0 580.4L992.5 580.7L993.0 580.2L993.5 579.8L994.0 580.3L994.5 580.3L995.0 579.8L995.5 580.1L996.0 579.7L996.5 580.4L996.8 580.2" stroke="#0b2265" stroke-width="3.5" stroke-linecap="round"/>
<path d="M138.50 608.20L140.00 608.20L141.50 608.19L143.00 608.19L144.50 608.18L146.00 608.18L147.50 608.17L149.00 608.16L150.50 608.16L152.00 608.15L153.50 608.14L155.00 608.13L156.50 608.13L158.00 608.12L159.50 608.11L161.00 608.10L162.50 608.09L164.00 608.08L165.50 608.07L167.00 608.06L168.50 608.05L170.00 608.03L171.50 608.02L173.00 608.01L174.50 607.99L176.00 607.97L177.50 607.95L179.00 607.93L180.50 607.91L182.00 607.88L183.50 607.85L185.00 607.81L186.50 607.77L188.00 607.73L189.50 607.67L191.00 607.60L192.50 607.51L193.60 607.43L194.00 607.39L194.10 607.39L194.60 607.34L195.10 607.28L195.50 607.24L195.60 607.22L195.70 607.21L195.80 607.20L195.90 607.19L196.00 607.17L196.10 607.16L196.20 607.14L196.30 607.13L196.40 607.11L196.50 607.10L196.60 607.08L196.70 607.06L196.80 607.05L196.90 607.03L197.00 607.01L197.10 606.99L197.20 606.97L197.30 606.95L197.40 606.93L197.50 606.91L197.60 606.89L197.70 606.87L197.80 606.84L197.90 606.82L198.00 606.79L198.10 606.77L198.20 606.74L198.30 606.71L198.40 606.68L198.50 606.65L198.60 606.62L198.70 606.59L198.80 606.55L198.90 606.52L199.00 606.48L199.10 606.44L199.20 606.40L199.30 606.36L199.40 606.32L199.50 606.27L199.60 606.22L199.70 606.17L199.80 606.12L199.90 606.06L200.00 606.00L200.10 605.94L200.20 605.87L200.30 605.80L200.40 605.72L200.50 605.64L200.60 605.56L200.70 605.47L200.80 605.37L200.90 605.26L201.00 605.15L201.10 605.03L201.12 605.00L201.14 604.98L201.16 604.95L201.18 604.93L201.20 604.90L201.22 604.87L201.24 604.84L201.26 604.81L201.28 604.78L201.30 604.76L201.32 604.73L201.34 604.69L201.36 604.66L201.38 604.63L201.40 604.60L201.42 604.57L201.44 604.53L201.46 604.50L201.48 604.46L201.50 604.43L201.52 604.39L201.54 604.36L201.56 604.32L201.58 604.28L201.60 604.24L201.62 604.20L201.64 604.16L201.66 604.12L201.68 604.08L201.70 604.04L201.72 603.99L201.74 603.95L201.76 603.90L201.78 603.85L201.80 603.81L201.82 603.76L201.84 603.71L201.86 603.66L201.88 603.61L201.90 603.55L201.92 603.50L201.94 603.44L201.96 603.38L201.98 603.33L202.00 603.27L202.02 603.20L202.04 603.14L202.06 603.08L202.08 603.01L202.10 602.94L202.12 602.87L202.14 602.80L202.16 602.73L202.18 602.65L202.20 602.58L202.22 602.50L202.24 602.41L202.26 602.33L202.28 602.24L202.30 602.15L202.32 602.06L202.34 601.97L202.36 601.87L202.38 601.77L202.40 601.66L202.42 601.56L202.44 601.45L202.46 601.33L202.48 601.21L202.50 601.09L202.52 600.97L202.54 600.83L202.56 600.70L202.58 600.56L202.60 600.41L202.62 600.26L202.64 600.10L202.66 599.94L202.68 599.77L202.70 599.59L202.72 599.41L202.74 599.21L202.76 599.01L202.78 598.80L202.80 598.59L202.82 598.36L202.84 598.12L202.86 597.87L202.88 597.60L202.90 597.33L202.92 597.04L202.94 596.73L202.96 596.41L202.98 596.07L203.00 595.72L203.02 595.34L203.04 594.94L203.06 594.52L203.08 594.07L203.10 593.59L203.12 593.09L203.14 592.55L203.16 591.98L203.18 591.37L203.20 590.72L203.22 590.03L203.24 589.29L203.26 588.50L203.28 587.65L203.30 586.75L203.32 585.79L203.34 584.77L203.36 583.69L203.38 582.55L203.40 581.36L203.42 580.12L203.44 578.86L203.46 577.60L203.48 576.35L203.50 575.18L203.52 574.11L203.54 573.20L203.56 572.51L203.58 572.07L203.60 571.92L203.62 572.07L203.64 572.51L203.66 573.20L203.68 574.11L203.70 575.18L203.72 576.35L203.74 577.60L203.76 578.86L203.78 580.12L203.80 581.36L203.82 582.55L203.84 583.69L203.86 584.77L203.88 585.79L203.90 586.75L203.92 587.65L203.94 588.49L203.96 589.29L203.98 590.03L204.00 590.72L204.02 591.37L204.04 591.98L204.06 592.55L204.08 593.09L204.10 593.59L204.12 594.07L204.14 594.51L204.16 594.94L204.18 595.34L204.20 595.71L204.22 596.07L204.24 596.41L204.26 596.73L204.28 597.04L204.30 597.33L204.32 597.60L204.34 597.86L204.36 598.11L204.38 598.35L204.40 598.58L204.42 598.80L204.44 599.01L204.46 599.21L204.48 599.40L204.50 599.59L204.52 599.76L204.54 599.93L204.56 600.10L204.58 600.26L204.60 600.41L204.62 600.55L204.64 600.69L204.66 600.83L204.68 600.96L204.70 601.09L204.72 601.21L204.74 601.33L204.76 601.44L204.78 601.55L204.80 601.66L204.82 601.76L204.84 601.86L204.86 601.96L204.88 602.06L204.90 602.15L204.92 602.24L204.94 602.32L204.96 602.41L204.98 602.49L205.00 602.57L205.02 602.65L205.04 602.72L205.06 602.80L205.08 602.87L205.10 602.94L205.12 603.00L205.14 603.07L205.16 603.13L205.18 603.20L205.20 603.26L205.22 603.32L205.24 603.38L205.26 603.43L205.28 603.49L205.30 603.54L205.32 603.60L205.34 603.65L205.36 603.70L205.38 603.75L205.40 603.80L205.42 603.85L205.44 603.89L205.46 603.94L205.48 603.98L205.50 604.03L205.52 604.07L205.54 604.11L205.56 604.15L205.58 604.19L205.60 604.23L205.62 604.27L205.64 604.31L205.66 604.35L205.68 604.38L205.70 604.42L205.72 604.46L205.74 604.49L205.76 604.52L205.78 604.56L205.80 604.59L205.82 604.62L205.84 604.65L205.86 604.68L205.88 604.71L205.90 604.74L205.92 604.77L205.94 604.80L205.96 604.83L205.98 604.86L206.00 604.89L206.02 604.91L206.04 604.94L206.06 604.97L206.08 604.99L206.10 605.02L206.20 605.14L206.30 605.25L206.40 605.36L206.50 605.45L206.60 605.54L206.70 605.63L206.80 605.71L206.90 605.78L207.00 605.85L207.10 605.92L207.20 605.98L207.30 606.04L207.40 606.10L207.50 606.15L207.60 606.20L207.70 606.25L207.80 606.30L207.90 606.34L208.00 606.38L208.10 606.42L208.20 606.46L208.30 606.50L208.40 606.53L208.50 606.57L208.60 606.60L208.70 606.63L208.80 606.66L208.90 606.69L209.00 606.72L209.10 606.74L209.20 606.77L209.30 606.79L209.40 606.82L209.50 606.84L209.60 606.86L209.70 606.88L209.80 606.90L209.90 606.92L210.00 606.94L210.10 606.96L210.20 606.98L210.30 607.00L210.40 607.02L210.50 607.03L210.60 607.05L210.70 607.07L210.80 607.08L210.90 607.10L211.00 607.11L211.10 607.12L211.20 607.14L211.30 607.15L211.40 607.16L211.50 607.18L211.60 607.19L212.00 607.24L212.10 607.25L212.60 607.30L213.10 607.34L213.50 607.38L213.60 607.38L215.00 607.48L216.50 607.56L218.00 607.62L219.50 607.67L221.00 607.71L222.50 607.74L224.00 607.77L225.50 607.79L227.00 607.81L228.50 607.83L230.00 607.84L231.50 607.85L233.00 607.86L234.50 607.87L236.00 607.88L237.50 607.89L239.00 607.89L240.50 607.90L242.00 607.90L243.50 607.91L245.00 607.91L246.50 607.91L248.00 607.91L249.50 607.91L251.00 607.92L252.50 607.92L254.00 607.92L255.50 607.92L257.00 607.92L258.50 607.92L260.00 607.92L261.50 607.91L263.00 607.91L264.50 607.91L266.00 607.91L267.50 607.91L269.00 607.91L270.50 607.90L272.00 607.90L273.50 607.90L275.00 607.90L276.50 607.89L278.00 607.89L279.50 607.89L281.00 607.88L282.50 607.88L284.00 607.88L285.50 607.87L287.00 607.87L288.50 607.87L290.00 607.86L291.50 607.86L293.00 607.85L294.50 607.85L296.00 607.84L297.50 607.84L299.00 607.83L300.50 607.83L302.00 607.83L303.50 607.82L305.00 607.81L306.50 607.81L308.00 607.80L309.50 607.80L311.00 607.79L312.50 607.79L314.00 607.78L315.50 607.78L317.00 607.77L318.50 607.76L320.00 607.76L321.50 607.75L323.00 607.74L324.50 607.74L326.00 607.73L327.50 607.72L329.00 607.72L330.50 607.71L332.00 607.70L333.50 607.70L335.00 607.69L336.50 607.68L338.00 607.67L339.50 607.66L341.00 607.66L342.50 607.65L344.00 607.64L345.50 607.63L347.00 607.62L348.50 607.62L350.00 607.61L351.50 607.60L353.00 607.59L354.50 607.58L356.00 607.57L357.50 607.56L359.00 607.55L360.50 607.54L362.00 607.53L363.50 607.52L365.00 607.51L366.50 607.50L368.00 607.49L369.50 607.48L371.00 607.47L372.50 607.46L374.00 607.45L375.50 607.43L377.00 607.42L378.50 607.41L380.00 607.40L381.50 607.39L383.00 607.37L384.50 607.36L386.00 607.35L387.50 607.33L389.00 607.32L390.50 607.31L392.00 607.29L393.50 607.28L395.00 607.26L396.50 607.25L398.00 607.23L399.50 607.22L401.00 607.20L402.50 607.19L404.00 607.17L405.50 607.15L407.00 607.14L408.50 607.12L410.00 607.10L411.50 607.08L413.00 607.07L414.50 607.05L416.00 607.03L417.50 607.01L419.00 606.99L420.50 606.97L422.00 606.95L423.50 606.93L425.00 606.90L426.50 606.88L428.00 606.86L429.50 606.84L431.00 606.81L432.50 606.79L434.00 606.76L435.50 606.74L437.00 606.71L438.50 606.68L440.00 606.66L441.50 606.63L443.00 606.60L444.50 606.57L446.00 606.54L447.50 606.51L449.00 606.48L450.50 606.45L452.00 606.41L453.50 606.38L455.00 606.34L456.50 606.31L458.00 606.27L459.50 606.23L461.00 606.19L462.50 606.15L464.00 606.11L465.50 606.06L467.00 606.02L468.50 605.97L470.00 605.93L471.50 605.88L473.00 605.83L474.50 605.77L476.00 605.72L477.50 605.66L479.00 605.61L480.50 605.54L482.00 605.48L483.50 605.42L485.00 605.35L486.50 605.28L488.00 605.21L489.50 605.13L491.00 605.05L492.50 604.97L494.00 604.89L495.50 604.80L497.00 604.71L498.50 604.61L500.00 604.51L501.50 604.40L503.00 604.29L504.20 604.19L504.50 604.17L504.70 604.15L505.20 604.11L505.70 604.07L506.00 604.05L506.20 604.03L506.70 603.99L507.20 603.94L507.50 603.92L507.70 603.90L508.20 603.85L508.70 603.81L509.00 603.78L509.20 603.76L509.70 603.71L510.20 603.66L510.50 603.63L510.70 603.61L511.20 603.56L511.70 603.51L512.00 603.48L512.20 603.46L512.70 603.41L513.20 603.35L513.50 603.32L513.70 603.30L514.20 603.24L514.70 603.18L515.00 603.15L515.20 603.12L515.70 603.06L516.20 603.00L516.50 602.96L516.70 602.94L517.20 602.87L517.70 602.81L518.00 602.77L518.20 602.74L518.70 602.67L519.20 602.60L519.50 602.56L519.70 602.53L520.20 602.46L520.70 602.38L521.00 602.34L521.20 602.31L521.70 602.23L522.20 602.15L522.50 602.10L522.70 602.07L523.20 601.98L523.70 601.89L524.00 601.84L524.20 601.81L524.70 601.72L525.20 601.62L525.50 601.57L525.70 601.53L526.20 601.43L526.70 601.33L527.00 601.27L527.20 601.23L527.70 601.12L528.20 601.01L528.50 600.94L528.70 600.90L529.20 600.78L529.70 600.66L530.00 600.59L530.20 600.54L530.70 600.42L531.20 600.29L531.50 600.21L531.70 600.15L532.20 600.02L532.70 599.87L533.00 599.79L533.20 599.73L533.70 599.57L534.20 599.42L534.50 599.32L534.70 599.26L535.20 599.09L535.70 598.92L536.00 598.81L536.20 598.74L536.70 598.55L537.20 598.36L537.50 598.24L537.70 598.16L538.20 597.95L538.70 597.73L539.00 597.60L539.20 597.51L539.70 597.27L540.20 597.03L540.50 596.88L540.70 596.78L541.20 596.51L541.70 596.23L542.00 596.06L542.20 595.95L542.70 595.64L543.20 595.33L543.50 595.13L543.70 594.99L544.20 594.64L544.70 594.28L545.00 594.05L545.20 593.89L545.70 593.48L546.20 593.05L546.50 592.78L546.70 592.60L547.20 592.12L547.70 591.61L548.00 591.29L548.20 591.06L548.70 590.49L549.20 589.87L549.50 589.48L549.70 589.21L550.20 588.51L550.70 587.75L551.00 587.27L551.20 586.94L551.70 586.06L552.20 585.11L552.50 584.50L552.70 584.07L553.20 582.94L553.70 581.71L554.00 580.91L554.20 580.35L554.70 578.85L555.20 577.18L555.50 576.09L555.70 575.32L556.20 573.23L556.30 572.78L556.40 572.32L556.50 571.84L556.60 571.36L556.70 570.86L556.80 570.35L556.90 569.82L557.00 569.28L557.10 568.72L557.20 568.15L557.30 567.57L557.40 566.96L557.50 566.34L557.60 565.70L557.70 565.04L557.80 564.36L557.90 563.66L558.00 562.93L558.10 562.18L558.20 561.41L558.30 560.61L558.40 559.79L558.50 558.93L558.60 558.05L558.70 557.13L558.80 556.19L558.90 555.20L559.00 554.18L559.10 553.12L559.20 552.02L559.30 550.87L559.40 549.68L559.50 548.44L559.60 547.14L559.70 545.79L559.80 544.38L559.90 542.91L560.00 541.36L560.10 539.75L560.20 538.05L560.30 536.28L560.40 534.41L560.50 532.44L560.60 530.37L560.70 528.19L560.80 525.88L560.90 523.44L561.00 520.86L561.10 518.11L561.20 515.19L561.30 512.09L561.40 508.77L561.50 505.23L561.60 501.43L561.70 497.36L561.72 496.51L561.74 495.64L561.76 494.76L561.78 493.87L561.80 492.97L561.82 492.05L561.84 491.12L561.86 490.17L561.88 489.21L561.90 488.23L561.92 487.24L561.94 486.23L561.96 485.21L561.98 484.17L562.00 483.11L562.02 482.03L562.04 480.94L562.06 479.83L562.08 478.70L562.10 477.55L562.12 476.38L562.14 475.19L562.16 473.98L562.18 472.75L562.20 471.50L562.22 470.22L562.24 468.92L562.26 467.60L562.28 466.26L562.30 464.89L562.32 463.49L562.34 462.07L562.36 460.62L562.38 459.15L562.40 457.65L562.42 456.12L562.44 454.55L562.46 452.96L562.48 451.34L562.50 449.69L562.52 448.00L562.54 446.28L562.56 444.52L562.58 442.73L562.60 440.90L562.62 439.03L562.64 437.13L562.66 435.18L562.68 433.20L562.70 431.17L562.72 429.10L562.74 426.98L562.76 424.81L562.78 422.60L562.80 420.34L562.82 418.03L562.84 415.67L562.86 413.26L562.88 410.78L562.90 408.26L562.92 405.67L562.94 403.02L562.96 400.32L562.98 397.55L563.00 394.71L563.02 391.80L563.04 388.83L563.06 385.78L563.08 382.66L563.10 379.47L563.12 376.20L563.14 372.84L563.16 369.41L563.18 365.89L563.20 362.28L563.22 358.59L563.24 354.80L563.26 350.92L563.28 346.94L563.30 342.87L563.32 338.69L563.34 334.42L563.36 330.04L563.38 325.55L563.40 320.96L563.42 316.25L563.44 311.44L563.46 306.52L563.48 301.48L563.50 296.34L563.52 291.08L563.54 285.71L563.56 280.24L563.58 274.66L563.60 268.97L563.62 263.19L563.64 257.31L563.66 251.35L563.68 245.30L563.70 239.19L563.72 233.01L563.74 226.78L563.76 220.52L563.78 214.25L563.80 207.97L563.82 201.71L563.84 195.49L563.86 189.34L563.88 183.28L563.90 177.35L563.92 171.56L563.94 165.96L563.96 160.58L563.98 155.45L564.00 150.61L564.02 146.09L564.04 141.94L564.06 138.18L564.08 134.84L564.10 131.97L564.12 129.57L564.14 127.69L564.16 126.33L564.18 125.50L564.20 125.23L564.22 124.54L564.24 125.36L564.26 126.72L564.28 128.61L564.30 131.00L564.32 133.88L564.34 137.21L564.36 140.97L564.38 145.13L564.40 149.64L564.42 154.48L564.44 159.61L564.46 164.99L564.48 170.59L564.50 176.38L564.52 182.31L564.54 188.37L564.56 194.52L564.58 200.74L564.60 207.00L564.62 213.28L564.64 219.56L564.66 225.82L564.68 232.04L564.70 238.22L564.72 244.33L564.74 250.38L564.76 256.34L564.78 262.22L564.80 268.00L564.82 273.69L564.84 279.27L564.86 284.75L564.88 290.11L564.90 295.37L564.92 300.52L564.94 305.55L564.96 310.47L564.98 315.29L565.00 319.99L565.02 324.58L565.04 329.07L565.06 333.45L565.08 337.73L565.10 341.90L565.12 345.97L565.14 349.95L565.16 353.83L565.18 357.62L565.20 361.31L565.22 364.92L565.24 368.44L565.26 371.88L565.28 375.23L565.30 378.50L565.32 381.70L565.34 384.82L565.36 387.86L565.38 390.84L565.40 393.74L565.42 396.58L565.44 399.35L565.46 402.06L565.48 404.70L565.50 407.29L565.52 409.82L565.54 412.29L565.56 414.70L565.58 417.07L565.60 419.38L565.62 421.64L565.64 423.85L565.66 426.01L565.68 428.13L565.70 430.20L565.72 432.23L565.74 434.22L565.76 436.16L565.78 438.07L565.80 439.93L565.82 441.76L565.84 443.55L565.86 445.31L565.88 447.03L565.90 448.72L565.92 450.37L565.94 452.00L565.96 453.59L565.98 455.15L566.00 456.68L566.02 458.18L566.04 459.66L566.06 461.10L566.08 462.52L566.10 463.92L566.12 465.29L566.14 466.63L566.16 467.95L566.18 469.25L566.20 470.53L566.22 471.78L566.24 473.01L566.26 474.22L566.28 475.41L566.30 476.58L566.32 477.73L566.34 478.86L566.36 479.97L566.38 481.07L566.40 482.14L566.42 483.20L566.44 484.24L566.46 485.26L566.48 486.27L566.50 487.26L566.52 488.24L566.54 489.20L566.56 490.15L566.58 491.08L566.60 492.00L566.62 492.90L566.64 493.80L566.66 494.67L566.68 495.54L566.70 496.39L566.80 500.47L566.90 504.26L567.00 507.81L567.10 511.12L567.20 514.23L567.30 517.14L567.40 519.89L567.50 522.47L567.60 524.91L567.70 527.22L567.80 529.40L567.90 531.47L568.00 533.44L568.10 535.31L568.20 537.09L568.30 538.78L568.40 540.40L568.50 541.94L568.60 543.41L568.70 544.82L568.80 546.17L568.90 547.47L569.00 548.71L569.10 549.90L569.20 551.05L569.30 552.15L569.40 553.21L569.50 554.23L569.60 555.22L569.70 556.16L569.80 557.08L569.90 557.96L570.00 558.82L570.10 559.64L570.20 560.44L570.30 561.21L570.40 561.96L570.50 562.68L570.60 563.39L570.70 564.07L570.80 564.73L570.90 565.37L571.00 565.99L571.10 566.60L571.20 567.18L571.30 567.75L571.40 568.31L571.50 568.85L571.60 569.37L571.70 569.89L571.80 570.38L571.90 570.87L572.00 571.34L572.10 571.80L572.20 572.25L572.70 574.35L573.20 576.21L573.50 577.23L573.70 577.87L574.20 579.37L574.70 580.73L575.00 581.49L575.20 581.97L575.70 583.10L576.20 584.13L576.50 584.71L576.70 585.08L577.20 585.96L577.70 586.78L578.00 587.24L578.20 587.53L578.70 588.24L579.20 588.89L579.50 589.27L579.70 589.51L580.20 590.08L580.70 590.63L581.00 590.93L581.20 591.13L581.70 591.62L582.20 592.07L582.50 592.33L582.70 592.50L583.20 592.90L583.70 593.29L584.00 593.51L584.20 593.66L584.70 594.01L585.20 594.34L585.50 594.53L585.70 594.65L586.20 594.96L586.70 595.24L587.00 595.41L587.20 595.52L587.70 595.78L588.20 596.04L588.50 596.18L588.70 596.28L589.20 596.51L589.70 596.74L590.00 596.87L590.20 596.95L590.70 597.16L591.20 597.36L591.50 597.47L591.70 597.55L592.20 597.74L592.70 597.91L593.00 598.02L593.20 598.09L593.70 598.25L594.20 598.41L594.50 598.51L594.70 598.57L595.20 598.72L595.70 598.87L596.00 598.95L596.20 599.01L596.70 599.14L597.20 599.28L597.50 599.35L597.70 599.41L598.20 599.53L598.70 599.65L599.00 599.72L599.20 599.77L599.70 599.88L600.20 599.99L600.50 600.06L600.70 600.10L601.20 600.21L601.70 600.31L602.00 600.37L602.20 600.41L602.70 600.51L603.20 600.60L603.50 600.66L603.70 600.69L604.20 600.78L604.70 600.87L605.00 600.92L605.20 600.96L605.70 601.04L606.20 601.12L606.50 601.17L606.70 601.20L607.20 601.28L607.70 601.35L608.00 601.40L608.20 601.43L608.70 601.50L609.20 601.57L609.50 601.61L609.70 601.64L610.20 601.70L610.70 601.77L611.00 601.81L611.20 601.83L611.70 601.90L612.20 601.96L612.50 601.99L612.70 602.02L613.20 602.08L613.70 602.14L614.00 602.17L614.20 602.19L614.70 602.25L615.20 602.30L615.50 602.33L615.70 602.36L616.20 602.41L616.70 602.46L617.00 602.49L617.20 602.51L617.70 602.56L618.20 602.61L618.50 602.64L618.70 602.65L619.20 602.70L619.70 602.75L620.00 602.77L620.20 602.79L620.70 602.84L621.20 602.88L621.50 602.90L621.70 602.92L622.20 602.96L622.70 603.00L623.00 603.03L623.20 603.04L623.70 603.08L624.20 603.12L624.50 603.14L626.00 603.26L627.50 603.36L629.00 603.46L630.50 603.56L632.00 603.65L633.50 603.74L635.00 603.82L636.50 603.90L638.00 603.98L639.50 604.05L641.00 604.12L642.50 604.18L644.00 604.25L645.50 604.31L647.00 604.37L648.50 604.43L650.00 604.48L651.50 604.53L653.00 604.58L654.50 604.63L656.00 604.68L657.50 604.72L659.00 604.77L660.50 604.81L662.00 604.85L663.50 604.89L665.00 604.93L666.50 604.96L668.00 605.00L669.50 605.03L671.00 605.06L672.50 605.10L674.00 605.13L675.50 605.16L677.00 605.18L678.50 605.21L680.00 605.24L681.50 605.26L683.00 605.29L684.50 605.31L686.00 605.34L687.50 605.36L689.00 605.38L690.50 605.40L692.00 605.42L693.50 605.44L695.00 605.46L696.50 605.48L698.00 605.50L699.50 605.52L701.00 605.53L702.50 605.55L704.00 605.57L705.50 605.58L707.00 605.60L708.50 605.61L710.00 605.63L711.50 605.64L713.00 605.65L714.50 605.66L716.00 605.68L717.50 605.69L719.00 605.70L720.50 605.71L722.00 605.72L723.50 605.73L725.00 605.74L726.50 605.75L728.00 605.76L729.50 605.77L731.00 605.78L732.50 605.79L734.00 605.79L735.50 605.80L737.00 605.81L738.50 605.82L740.00 605.82L741.50 605.83L743.00 605.84L744.50 605.84L746.00 605.85L747.50 605.85L749.00 605.86L750.50 605.87L752.00 605.87L753.50 605.87L755.00 605.88L756.50 605.88L758.00 605.89L759.50 605.89L761.00 605.90L762.50 605.90L764.00 605.90L765.50 605.90L767.00 605.91L768.50 605.91L770.00 605.91L771.50 605.92L773.00 605.92L774.50 605.92L776.00 605.92L777.50 605.92L779.00 605.92L780.50 605.93L782.00 605.93L783.50 605.93L785.00 605.93L786.50 605.93L788.00 605.93L789.50 605.93L791.00 605.93L792.50 605.93L794.00 605.93L795.50 605.93L797.00 605.93L798.50 605.93L800.00 605.93L801.50 605.93L803.00 605.93L804.50 605.93L806.00 605.93L807.50 605.93L809.00 605.92L810.50 605.92L812.00 605.92L813.50 605.92L815.00 605.92L816.50 605.92L818.00 605.91L819.50 605.91L821.00 605.91L822.50 605.91L824.00 605.91L825.50 605.90L827.00 605.90L828.50 605.90L830.00 605.90L831.50 605.89L833.00 605.89L834.50 605.89L836.00 605.88L837.50 605.88L839.00 605.88L840.50 605.87L842.00 605.87L843.50 605.87L845.00 605.86L846.50 605.86L848.00 605.86L849.50 605.85L851.00 605.85L852.50 605.84L854.00 605.84L855.50 605.84L857.00 605.83L858.50 605.83L860.00 605.82L861.50 605.82L863.00 605.81L864.50 605.81L866.00 605.81L867.50 605.80L869.00 605.80L870.50 605.79L872.00 605.79L873.50 605.78L875.00 605.78L876.50 605.77L878.00 605.77L879.50 605.76L881.00 605.76L882.50 605.75L884.00 605.74L885.50 605.74L887.00 605.73L888.50 605.73L890.00 605.72L891.50 605.72L893.00 605.71L894.50 605.70L896.00 605.70L897.50 605.69L899.00 605.69L900.50 605.68L902.00 605.67L903.50 605.67L905.00 605.66L906.50 605.66L908.00 605.65L909.50 605.64L911.00 605.64L912.50 605.63L914.00 605.62L915.50 605.62L917.00 605.61L918.50 605.60L920.00 605.60L921.50 605.59L923.00 605.58L924.50 605.58L926.00 605.57L927.50 605.56L929.00 605.55L930.50 605.55L932.00 605.54L933.50 605.53L935.00 605.53L936.50 605.52L938.00 605.51L939.50 605.50L941.00 605.50L942.50 605.49L944.00 605.48L945.50 605.47L947.00 605.47L948.50 605.46L950.00 605.45L951.50 605.44L953.00 605.44L954.50 605.43L956.00 605.42L957.50 605.41L959.00 605.40L960.50 605.40L962.00 605.39L963.50 605.38L965.00 605.37L966.50 605.36L968.00 605.35L969.50 605.35L971.00 605.34L972.50 605.33L974.00 605.32L975.50 605.31L977.00 605.30L978.50 605.30L980.00 605.29L981.50 605.28L983.00 605.27L984.50 605.26L986.00 605.25L987.50 605.24L989.00 605.24L990.50 605.23L992.00 605.22L993.50 605.21L995.00 605.20L996.50 605.19" stroke="#c00000" stroke-width="3.5" stroke-linecap="round" stroke-dasharray="0 7.25"/>
<path d="M138.50 608.21L140.00 608.21L141.50 608.20L143.00 608.20L144.50 608.20L146.00 608.19L147.50 608.19L149.00 608.19L150.50 608.18L152.00 608.18L153.50 608.17L155.00 608.17L156.50 608.17L158.00 608.16L159.50 608.16L161.00 608.15L162.50 608.15L164.00 608.14L165.50 608.13L167.00 608.13L168.50 608.12L170.00 608.12L171.50 608.11L173.00 608.10L174.50 608.09L176.00 608.09L177.50 608.08L179.00 608.07L180.50 608.06L182.00 608.05L183.50 608.03L185.00 608.02L186.50 608.01L188.00 607.99L189.50 607.97L191.00 607.96L192.50 607.93L194.00 607.91L195.50 607.88L197.00 607.85L198.50 607.81L200.00 607.76L201.50 607.70L203.00 607.62L203.20 607.61L203.70 607.57L204.20 607.54L204.50 607.51L204.70 607.50L205.20 607.45L205.30 607.44L205.40 607.43L205.50 607.42L205.60 607.41L205.70 607.40L205.80 607.39L205.90 607.38L206.00 607.37L206.10 607.36L206.20 607.34L206.30 607.33L206.40 607.32L206.50 607.31L206.60 607.29L206.70 607.28L206.80 607.26L206.90 607.25L207.00 607.23L207.10 607.22L207.20 607.20L207.30 607.18L207.40 607.17L207.50 607.15L207.60 607.13L207.70 607.11L207.80 607.09L207.90 607.07L208.00 607.05L208.10 607.02L208.20 607.00L208.30 606.98L208.40 606.95L208.50 606.92L208.60 606.90L208.70 606.87L208.80 606.84L208.90 606.81L209.00 606.77L209.10 606.74L209.20 606.70L209.30 606.66L209.40 606.62L209.50 606.58L209.60 606.54L209.70 606.49L209.80 606.44L209.90 606.39L210.00 606.33L210.10 606.27L210.20 606.21L210.30 606.15L210.40 606.07L210.50 606.00L210.60 605.92L210.70 605.83L210.72 605.81L210.74 605.79L210.76 605.77L210.78 605.75L210.80 605.73L210.82 605.71L210.84 605.69L210.86 605.67L210.88 605.65L210.90 605.63L210.92 605.61L210.94 605.59L210.96 605.56L210.98 605.54L211.00 605.52L211.02 605.50L211.04 605.47L211.06 605.45L211.08 605.42L211.10 605.40L211.12 605.37L211.14 605.35L211.16 605.32L211.18 605.29L211.20 605.27L211.22 605.24L211.24 605.21L211.26 605.18L211.28 605.15L211.30 605.12L211.32 605.09L211.34 605.06L211.36 605.03L211.38 604.99L211.40 604.96L211.42 604.93L211.44 604.89L211.46 604.86L211.48 604.82L211.50 604.79L211.52 604.75L211.54 604.71L211.56 604.67L211.58 604.63L211.60 604.59L211.62 604.55L211.64 604.51L211.66 604.46L211.68 604.42L211.70 604.37L211.72 604.33L211.74 604.28L211.76 604.23L211.78 604.18L211.80 604.13L211.82 604.08L211.84 604.02L211.86 603.97L211.88 603.91L211.90 603.86L211.92 603.80L211.94 603.74L211.96 603.67L211.98 603.61L212.00 603.55L212.02 603.48L212.04 603.41L212.06 603.34L212.08 603.27L212.10 603.19L212.12 603.12L212.14 603.04L212.16 602.96L212.18 602.87L212.20 602.79L212.22 602.70L212.24 602.61L212.26 602.52L212.28 602.42L212.30 602.32L212.32 602.22L212.34 602.12L212.36 602.01L212.38 601.90L212.40 601.79L212.42 601.67L212.44 601.55L212.46 601.43L212.48 601.30L212.50 601.17L212.52 601.03L212.54 600.89L212.56 600.75L212.58 600.60L212.60 600.45L212.62 600.30L212.64 600.14L212.66 599.98L212.68 599.81L212.70 599.64L212.72 599.47L212.74 599.30L212.76 599.12L212.78 598.94L212.80 598.75L212.82 598.57L212.84 598.38L212.86 598.20L212.88 598.01L212.90 597.83L212.92 597.64L212.94 597.47L212.96 597.29L212.98 597.13L213.00 596.97L213.02 596.82L213.04 596.68L213.06 596.55L213.08 596.44L213.10 596.34L213.12 596.25L213.14 596.19L213.16 596.14L213.18 596.11L213.20 596.10L213.22 596.11L213.24 596.14L213.26 596.19L213.28 596.25L213.30 596.34L213.32 596.44L213.34 596.55L213.36 596.68L213.38 596.82L213.40 596.97L213.42 597.13L213.44 597.29L213.46 597.47L213.48 597.64L213.50 597.82L213.52 598.01L213.54 598.19L213.56 598.38L213.58 598.57L213.60 598.75L213.62 598.93L213.64 599.12L213.66 599.29L213.68 599.47L213.70 599.64L213.72 599.81L213.74 599.98L213.76 600.14L213.78 600.30L213.80 600.45L213.82 600.60L213.84 600.75L213.86 600.89L213.88 601.03L213.90 601.17L213.92 601.30L213.94 601.42L213.96 601.55L213.98 601.67L214.00 601.78L214.02 601.90L214.04 602.01L214.06 602.12L214.08 602.22L214.10 602.32L214.12 602.42L214.14 602.51L214.16 602.61L214.18 602.70L214.20 602.79L214.22 602.87L214.24 602.95L214.26 603.03L214.28 603.11L214.30 603.19L214.32 603.26L214.34 603.34L214.36 603.41L214.38 603.48L214.40 603.54L214.42 603.61L214.44 603.67L214.46 603.73L214.48 603.79L214.50 603.85L214.52 603.91L214.54 603.97L214.56 604.02L214.58 604.07L214.60 604.13L214.62 604.18L214.64 604.23L214.66 604.28L214.68 604.32L214.70 604.37L214.72 604.41L214.74 604.46L214.76 604.50L214.78 604.54L214.80 604.59L214.82 604.63L214.84 604.67L214.86 604.71L214.88 604.74L214.90 604.78L214.92 604.82L214.94 604.85L214.96 604.89L214.98 604.92L215.00 604.96L215.02 604.99L215.04 605.02L215.06 605.05L215.08 605.08L215.10 605.11L215.12 605.14L215.14 605.17L215.16 605.20L215.18 605.23L215.20 605.26L215.22 605.29L215.24 605.31L215.26 605.34L215.28 605.37L215.30 605.39L215.32 605.42L215.34 605.44L215.36 605.46L215.38 605.49L215.40 605.51L215.42 605.53L215.44 605.56L215.46 605.58L215.48 605.60L215.50 605.62L215.52 605.64L215.54 605.66L215.56 605.69L215.58 605.71L215.60 605.73L215.62 605.74L215.64 605.76L215.66 605.78L215.68 605.80L215.70 605.82L215.80 605.91L215.90 605.99L216.00 606.07L216.10 606.14L216.20 606.20L216.30 606.27L216.40 606.32L216.50 606.38L216.60 606.43L216.70 606.48L216.80 606.53L216.90 606.57L217.00 606.61L217.10 606.65L217.20 606.69L217.30 606.73L217.40 606.76L217.50 606.79L217.60 606.82L217.70 606.85L217.80 606.88L217.90 606.91L218.00 606.94L218.10 606.96L218.20 606.98L218.30 607.01L218.40 607.03L218.50 607.05L218.60 607.07L218.70 607.09L218.80 607.11L218.90 607.13L219.00 607.15L219.10 607.17L219.20 607.18L219.30 607.20L219.40 607.21L219.50 607.23L219.60 607.24L219.70 607.26L219.80 607.27L219.90 607.29L220.00 607.30L220.10 607.31L220.20 607.32L220.30 607.33L220.40 607.35L220.50 607.36L220.60 607.37L220.70 607.38L220.80 607.39L220.90 607.40L221.00 607.41L221.10 607.42L221.20 607.43L221.70 607.47L222.20 607.51L222.50 607.53L222.70 607.54L223.20 607.58L224.00 607.62L225.50 607.68L227.00 607.74L228.50 607.78L230.00 607.81L231.50 607.84L233.00 607.86L234.50 607.88L236.00 607.89L237.50 607.91L239.00 607.92L240.50 607.93L242.00 607.94L243.50 607.95L245.00 607.95L246.50 607.96L248.00 607.96L249.50 607.97L251.00 607.97L252.50 607.97L254.00 607.98L255.50 607.98L257.00 607.98L258.50 607.98L260.00 607.98L261.50 607.99L263.00 607.99L264.50 607.99L266.00 607.99L267.50 607.99L269.00 607.99L270.50 607.99L272.00 607.99L273.50 607.99L275.00 607.98L276.50 607.98L278.00 607.98L279.50 607.98L281.00 607.98L282.50 607.98L284.00 607.98L285.50 607.98L287.00 607.97L288.50 607.97L290.00 607.97L291.50 607.97L293.00 607.97L294.50 607.96L296.00 607.96L297.50 607.96L299.00 607.96L300.50 607.95L302.00 607.95L303.50 607.95L305.00 607.95L306.50 607.94L308.00 607.94L309.50 607.94L311.00 607.93L312.50 607.93L314.00 607.93L315.50 607.92L317.00 607.92L318.50 607.92L320.00 607.91L321.50 607.91L323.00 607.91L324.50 607.90L326.00 607.90L327.50 607.89L329.00 607.89L330.50 607.89L332.00 607.88L333.50 607.88L335.00 607.87L336.50 607.87L338.00 607.87L339.50 607.86L341.00 607.86L342.50 607.85L344.00 607.85L345.50 607.84L347.00 607.84L348.50 607.83L350.00 607.83L351.50 607.82L353.00 607.82L354.50 607.81L356.00 607.81L357.50 607.80L359.00 607.80L360.50 607.79L362.00 607.79L363.50 607.78L365.00 607.77L366.50 607.77L368.00 607.76L369.50 607.76L371.00 607.75L372.50 607.74L374.00 607.74L375.50 607.73L377.00 607.73L378.50 607.72L380.00 607.71L381.50 607.71L383.00 607.70L384.50 607.69L386.00 607.68L387.50 607.68L389.00 607.67L390.50 607.66L392.00 607.66L393.50 607.65L395.00 607.64L396.50 607.63L398.00 607.62L399.50 607.62L401.00 607.61L402.50 607.60L404.00 607.59L405.50 607.58L407.00 607.57L408.50 607.57L410.00 607.56L411.50 607.55L413.00 607.54L414.50 607.53L416.00 607.52L417.50 607.51L419.00 607.50L420.50 607.49L422.00 607.48L423.50 607.47L425.00 607.46L426.50 607.45L428.00 607.44L429.50 607.42L431.00 607.41L432.50 607.40L434.00 607.39L435.50 607.38L437.00 607.37L438.50 607.35L440.00 607.34L441.50 607.33L443.00 607.31L444.50 607.30L446.00 607.29L447.50 607.27L449.00 607.26L450.50 607.24L452.00 607.23L453.50 607.21L455.00 607.20L456.50 607.18L458.00 607.17L459.50 607.15L461.00 607.13L462.50 607.12L464.00 607.10L465.50 607.08L467.00 607.06L468.50 607.04L470.00 607.03L471.50 607.01L473.00 606.99L474.50 606.97L476.00 606.95L477.50 606.92L479.00 606.90L480.50 606.88L482.00 606.86L483.50 606.83L485.00 606.81L486.50 606.78L488.00 606.76L489.50 606.73L491.00 606.71L492.50 606.68L494.00 606.65L495.50 606.62L497.00 606.59L498.50 606.56L500.00 606.53L501.50 606.50L503.00 606.46L504.50 606.43L506.00 606.39L507.50 606.36L509.00 606.32L510.50 606.28L512.00 606.24L513.50 606.20L515.00 606.16L516.50 606.11L518.00 606.07L519.50 606.02L521.00 605.97L522.50 605.92L524.00 605.87L525.50 605.81L527.00 605.76L528.50 605.70L530.00 605.64L531.50 605.57L533.00 605.51L534.50 605.44L536.00 605.37L537.50 605.29L539.00 605.21L540.50 605.13L542.00 605.04L543.50 604.95L545.00 604.86L545.40 604.83L545.90 604.80L546.40 604.76L546.50 604.76L546.90 604.73L547.40 604.70L547.90 604.66L548.00 604.65L548.40 604.62L548.90 604.59L549.40 604.55L549.50 604.54L549.90 604.51L550.40 604.47L550.90 604.43L551.00 604.42L551.40 604.39L551.90 604.35L552.40 604.31L552.50 604.30L552.90 604.27L553.40 604.22L553.90 604.18L554.00 604.17L554.40 604.13L554.90 604.09L555.40 604.04L555.50 604.03L555.90 603.99L556.40 603.95L556.90 603.90L557.00 603.89L557.40 603.84L557.90 603.79L558.40 603.74L558.50 603.73L558.90 603.69L559.40 603.63L559.90 603.57L560.00 603.56L560.40 603.52L560.90 603.46L561.40 603.40L561.50 603.38L561.90 603.33L562.40 603.27L562.90 603.21L563.00 603.19L563.40 603.14L563.90 603.07L564.40 603.00L564.50 602.99L564.90 602.93L565.40 602.86L565.90 602.78L566.00 602.77L566.40 602.71L566.90 602.63L567.40 602.55L567.50 602.53L567.90 602.46L568.40 602.38L568.90 602.29L569.00 602.27L569.40 602.20L569.90 602.11L570.40 602.01L570.50 601.99L570.90 601.91L571.40 601.81L571.90 601.71L572.00 601.69L572.40 601.60L572.90 601.49L573.40 601.38L573.50 601.35L573.90 601.26L574.40 601.14L574.90 601.01L575.00 600.99L575.40 600.88L575.90 600.75L576.40 600.61L576.50 600.58L576.90 600.47L577.40 600.32L577.90 600.17L578.00 600.13L578.40 600.01L578.90 599.84L579.40 599.67L579.50 599.63L579.90 599.49L580.40 599.30L580.90 599.11L581.00 599.07L581.40 598.91L581.90 598.70L582.40 598.48L582.50 598.44L582.90 598.25L583.40 598.01L583.90 597.76L584.00 597.71L584.40 597.50L584.90 597.22L585.40 596.94L585.50 596.88L585.90 596.63L586.40 596.31L586.90 595.98L587.00 595.91L587.40 595.62L587.90 595.24L588.40 594.85L588.50 594.76L588.90 594.42L589.40 593.98L589.90 593.50L590.00 593.40L590.40 592.99L590.90 592.45L591.40 591.86L591.50 591.74L591.90 591.24L592.40 590.56L592.90 589.84L593.00 589.68L593.40 589.05L593.90 588.19L594.40 587.26L594.50 587.06L594.90 586.23L595.40 585.11L595.90 583.87L596.00 583.60L596.40 582.49L596.90 580.94L597.40 579.21L597.50 578.84L597.60 578.45L597.70 578.06L597.80 577.66L597.90 577.25L598.00 576.82L598.10 576.39L598.20 575.94L598.30 575.48L598.40 575.00L598.50 574.52L598.60 574.02L598.70 573.50L598.80 572.97L598.90 572.42L599.00 571.86L599.10 571.27L599.20 570.67L599.30 570.05L599.40 569.41L599.50 568.75L599.60 568.06L599.70 567.35L599.80 566.62L599.90 565.86L600.00 565.07L600.10 564.25L600.20 563.40L600.30 562.52L600.40 561.60L600.50 560.65L600.60 559.66L600.70 558.62L600.80 557.54L600.90 556.42L601.00 555.24L601.10 554.01L601.20 552.73L601.30 551.38L601.40 549.96L601.50 548.48L601.60 546.92L601.70 545.27L601.80 543.54L601.90 541.71L602.00 539.78L602.10 537.73L602.20 535.56L602.30 533.26L602.40 530.81L602.50 528.19L602.60 525.40L602.70 522.40L602.80 519.19L602.90 515.74L602.92 515.02L602.94 514.28L602.96 513.54L602.98 512.78L603.00 512.02L603.02 511.23L603.04 510.44L603.06 509.64L603.08 508.82L603.10 507.99L603.12 507.14L603.14 506.28L603.16 505.41L603.18 504.52L603.20 503.62L603.22 502.70L603.24 501.76L603.26 500.81L603.28 499.85L603.30 498.86L603.32 497.86L603.34 496.84L603.36 495.80L603.38 494.75L603.40 493.67L603.42 492.57L603.44 491.46L603.46 490.32L603.48 489.16L603.50 487.98L603.52 486.78L603.54 485.55L603.56 484.30L603.58 483.02L603.60 481.72L603.62 480.39L603.64 479.04L603.66 477.66L603.68 476.25L603.70 474.81L603.72 473.33L603.74 471.83L603.76 470.30L603.78 468.73L603.80 467.13L603.82 465.49L603.84 463.82L603.86 462.11L603.88 460.36L603.90 458.57L603.92 456.74L603.94 454.87L603.96 452.95L603.98 450.99L604.00 448.98L604.02 446.92L604.04 444.81L604.06 442.65L604.08 440.44L604.10 438.17L604.12 435.84L604.14 433.45L604.16 431.00L604.18 428.49L604.20 425.91L604.22 423.26L604.24 420.55L604.26 417.76L604.28 414.89L604.30 411.94L604.32 408.91L604.34 405.80L604.36 402.60L604.38 399.31L604.40 395.93L604.42 392.44L604.44 388.86L604.46 385.17L604.48 381.38L604.50 377.47L604.52 373.45L604.54 369.30L604.56 365.04L604.58 360.64L604.60 356.12L604.62 351.45L604.64 346.65L604.66 341.71L604.68 336.62L604.70 331.37L604.72 325.98L604.74 320.42L604.76 314.71L604.78 308.83L604.80 302.80L604.82 296.60L604.84 290.23L604.86 283.71L604.88 277.03L604.90 270.19L604.92 263.21L604.94 256.10L604.96 248.85L604.98 241.49L605.00 234.04L605.02 226.52L605.04 218.94L605.06 211.34L605.08 203.75L605.10 196.22L605.12 188.77L605.14 181.46L605.16 174.35L605.18 167.47L605.20 160.91L605.22 154.70L605.24 148.93L605.26 143.65L605.28 138.92L605.30 134.80L605.32 131.36L605.34 128.62L605.36 126.64L605.38 125.44L605.40 125.03L605.42 125.35L605.44 126.31L605.46 127.89L605.48 130.07L605.50 132.83L605.52 136.15L605.54 139.98L605.56 144.29L605.58 149.02L605.60 154.15L605.62 159.63L605.64 165.40L605.66 171.43L605.68 177.68L605.70 184.09L605.72 190.65L605.74 197.30L605.76 204.02L605.78 210.78L605.80 217.55L605.82 224.30L605.84 231.03L605.86 237.70L605.88 244.30L605.90 250.82L605.92 257.25L605.94 263.58L605.96 269.80L605.98 275.90L606.00 281.88L606.02 287.74L606.04 293.47L606.06 299.08L606.08 304.55L606.10 309.89L606.12 315.11L606.14 320.19L606.16 325.15L606.18 329.99L606.20 334.70L606.22 339.29L606.24 343.77L606.26 348.13L606.28 352.37L606.30 356.51L606.32 360.53L606.34 364.46L606.36 368.28L606.38 372.00L606.40 375.63L606.42 379.16L606.44 382.60L606.46 385.96L606.48 389.23L606.50 392.41L606.52 395.52L606.54 398.55L606.56 401.50L606.58 404.38L606.60 407.19L606.62 409.93L606.64 412.61L606.66 415.22L606.68 417.77L606.70 420.26L606.72 422.69L606.74 425.06L606.76 427.38L606.78 429.64L606.80 431.86L606.82 434.02L606.84 436.14L606.86 438.21L606.88 440.23L606.90 442.21L606.92 444.14L606.94 446.04L606.96 447.89L606.98 449.70L607.00 451.48L607.02 453.22L607.04 454.92L607.06 456.59L607.08 458.22L607.10 459.83L607.12 461.40L607.14 462.93L607.16 464.44L607.18 465.92L607.20 467.37L607.22 468.79L607.24 470.19L607.26 471.56L607.28 472.90L607.30 474.22L607.32 475.51L607.34 476.78L607.36 478.03L607.38 479.25L607.40 480.46L607.42 481.64L607.44 482.80L607.46 483.94L607.48 485.06L607.50 486.16L607.52 487.24L607.54 488.31L607.56 489.35L607.58 490.38L607.60 491.39L607.62 492.39L607.64 493.37L607.66 494.33L607.68 495.28L607.70 496.21L607.72 497.13L607.74 498.03L607.76 498.92L607.78 499.79L607.80 500.65L607.82 501.50L607.84 502.34L607.86 503.16L607.88 503.97L607.90 504.77L608.00 508.59L608.10 512.15L608.20 515.46L608.30 518.56L608.40 521.46L608.50 524.19L608.60 526.75L608.70 529.16L608.80 531.43L608.90 533.58L609.00 535.62L609.10 537.55L609.20 539.38L609.30 541.12L609.40 542.77L609.50 544.35L609.60 545.85L609.70 547.28L609.80 548.65L609.90 549.96L610.00 551.22L610.10 552.42L610.20 553.57L610.30 554.68L610.40 555.74L610.50 556.76L610.60 557.75L610.70 558.69L610.80 559.61L610.90 560.49L611.00 561.33L611.10 562.15L611.20 562.94L611.30 563.71L611.40 564.45L611.50 565.16L611.60 565.85L611.70 566.52L611.80 567.17L611.90 567.80L612.00 568.41L612.10 569.01L612.20 569.58L612.30 570.14L612.40 570.68L612.50 571.21L612.60 571.72L612.70 572.22L612.80 572.71L612.90 573.18L613.00 573.64L613.10 574.09L613.20 574.53L613.30 574.95L613.40 575.37L613.90 577.30L614.00 577.65L614.40 579.01L614.90 580.54L615.40 581.92L615.50 582.18L615.90 583.17L616.40 584.30L616.90 585.33L617.00 585.53L617.40 586.28L617.90 587.15L618.40 587.95L618.50 588.10L618.90 588.69L619.40 589.38L619.90 590.02L620.00 590.14L620.40 590.62L620.90 591.19L621.40 591.72L621.50 591.83L621.90 592.22L622.40 592.70L622.90 593.14L623.00 593.23L623.40 593.56L623.90 593.96L624.40 594.33L624.50 594.40L624.90 594.69L625.40 595.03L625.90 595.35L626.00 595.41L626.40 595.65L626.90 595.95L627.40 596.22L627.50 596.28L627.90 596.49L628.40 596.74L628.90 596.99L629.00 597.04L629.40 597.22L629.90 597.45L630.40 597.66L630.50 597.70L630.90 597.87L631.40 598.06L631.90 598.25L632.00 598.29L632.40 598.44L632.90 598.61L633.40 598.79L633.50 598.82L633.90 598.95L634.40 599.11L634.90 599.26L635.00 599.29L635.40 599.41L635.90 599.55L636.40 599.69L636.50 599.72L636.90 599.82L637.40 599.95L637.90 600.08L638.00 600.10L638.40 600.20L638.90 600.32L639.40 600.43L639.50 600.45L639.90 600.54L640.40 600.65L640.90 600.76L641.00 600.78L641.40 600.86L641.90 600.96L642.40 601.05L642.50 601.07L642.90 601.15L643.40 601.24L643.90 601.32L644.00 601.34L644.40 601.41L644.90 601.50L645.40 601.58L645.50 601.59L645.90 601.66L646.40 601.73L646.90 601.81L647.00 601.82L647.40 601.88L647.90 601.96L648.40 602.03L648.50 602.04L648.90 602.10L649.40 602.16L649.90 602.23L650.00 602.24L650.40 602.29L650.90 602.35L651.40 602.42L651.50 602.43L651.90 602.48L652.40 602.53L652.90 602.59L653.00 602.60L653.40 602.65L653.90 602.70L654.40 602.76L654.50 602.77L654.90 602.81L655.40 602.86L655.90 602.91L656.00 602.92L656.40 602.96L656.90 603.01L657.40 603.05L657.50 603.06L657.90 603.10L658.40 603.15L658.90 603.19L659.00 603.20L659.40 603.23L659.90 603.28L660.40 603.32L660.50 603.33L660.90 603.36L661.40 603.40L661.90 603.44L662.00 603.45L662.40 603.49L662.90 603.52L663.40 603.56L663.50 603.57L663.90 603.60L664.40 603.64L664.90 603.68L665.00 603.68L665.40 603.71L666.50 603.79L668.00 603.89L669.50 603.99L671.00 604.08L672.50 604.17L674.00 604.25L675.50 604.33L677.00 604.41L678.50 604.48L680.00 604.55L681.50 604.62L683.00 604.68L684.50 604.74L686.00 604.80L687.50 604.86L689.00 604.92L690.50 604.97L692.00 605.02L693.50 605.07L695.00 605.12L696.50 605.16L698.00 605.21L699.50 605.25L701.00 605.29L702.50 605.33L704.00 605.37L705.50 605.41L707.00 605.44L708.50 605.48L710.00 605.51L711.50 605.54L713.00 605.58L714.50 605.61L716.00 605.64L717.50 605.67L719.00 605.69L720.50 605.72L722.00 605.75L723.50 605.77L725.00 605.80L726.50 605.82L728.00 605.85L729.50 605.87L731.00 605.89L732.50 605.92L734.00 605.94L735.50 605.96L737.00 605.98L738.50 606.00L740.00 606.02L741.50 606.04L743.00 606.05L744.50 606.07L746.00 606.09L747.50 606.11L749.00 606.12L750.50 606.14L752.00 606.15L753.50 606.17L755.00 606.18L756.50 606.20L758.00 606.21L759.50 606.23L761.00 606.24L762.50 606.25L764.00 606.27L765.50 606.28L767.00 606.29L768.50 606.30L770.00 606.32L771.50 606.33L773.00 606.34L774.50 606.35L776.00 606.36L777.50 606.37L779.00 606.38L780.50 606.39L782.00 606.40L783.50 606.41L785.00 606.42L786.50 606.43L788.00 606.44L789.50 606.45L791.00 606.46L792.50 606.46L794.00 606.47L795.50 606.48L797.00 606.49L798.50 606.50L800.00 606.50L801.50 606.50L803.00 606.51L804.50 606.51L806.00 606.51L807.50 606.51L809.00 606.51L810.50 606.51L812.00 606.51L813.50 606.51L815.00 606.51L816.50 606.51L818.00 606.51L819.50 606.51L821.00 606.51L822.50 606.51L824.00 606.51L825.50 606.51L827.00 606.51L828.50 606.50L830.00 606.50L831.50 606.50L833.00 606.50L834.50 606.50L836.00 606.50L837.50 606.50L839.00 606.49L840.50 606.49L842.00 606.49L843.50 606.49L845.00 606.49L846.50 606.48L848.00 606.48L849.50 606.48L851.00 606.48L852.50 606.47L854.00 606.47L855.50 606.47L857.00 606.47L858.50 606.46L860.00 606.46L861.50 606.46L863.00 606.45L864.50 606.45L866.00 606.45L867.50 606.44L869.00 606.44L870.50 606.44L872.00 606.43L873.50 606.43L875.00 606.43L876.50 606.42L878.00 606.42L879.50 606.42L881.00 606.41L882.50 606.41L884.00 606.40L885.50 606.40L887.00 606.40L888.50 606.39L890.00 606.39L891.50 606.38L893.00 606.38L894.50 606.37L896.00 606.37L897.50 606.37L899.00 606.36L900.50 606.36L902.00 606.35L903.50 606.35L905.00 606.34L906.50 606.34L908.00 606.33L909.50 606.33L911.00 606.32L912.50 606.32L914.00 606.31L915.50 606.31L917.00 606.30L918.50 606.30L920.00 606.29L921.50 606.29L923.00 606.28L924.50 606.28L926.00 606.27L927.50 606.27L929.00 606.26L930.50 606.26L932.00 606.25L933.50 606.25L935.00 606.24L936.50 606.23L938.00 606.23L939.50 606.22L941.00 606.22L942.50 606.21L944.00 606.21L945.50 606.20L947.00 606.20L948.50 606.19L950.00 606.18L951.50 606.18L953.00 606.17L954.50 606.17L956.00 606.16L957.50 606.15L959.00 606.15L960.50 606.14L962.00 606.14L963.50 606.13L965.00 606.12L966.50 606.12L968.00 606.11L969.50 606.11L971.00 606.10L972.50 606.09L974.00 606.09L975.50 606.08L977.00 606.08L978.50 606.07L980.00 606.06L981.50 606.06L983.00 606.05L984.50 606.04L986.00 606.04L987.50 606.03L989.00 606.02L990.50 606.02L992.00 606.01L993.50 606.01L995.00 606.01L996.50 606.00L998.00 606.00" stroke="#ffc000" stroke-width="3.5" stroke-linecap="butt"/>
</g>
<g stroke="#000" stroke-width="4.1">
<path d="M127.3 609.00H138"/>
<path d="M127.3 512.25H138"/>
<path d="M127.3 415.50H138"/>
<path d="M127.3 318.75H138"/>
<path d="M127.3 222.00H138"/>
<path d="M127.3 125.25H138"/>
<path d="M138.50 610.4V619.6"/>
<path d="M172.87 610.4V617.0"/>
<path d="M207.24 610.4V617.0"/>
<path d="M241.60 610.4V617.0"/>
<path d="M275.97 610.4V617.0"/>
<path d="M310.34 610.4V619.6"/>
<path d="M344.71 610.4V617.0"/>
<path d="M379.08 610.4V617.0"/>
<path d="M413.44 610.4V617.0"/>
<path d="M447.81 610.4V617.0"/>
<path d="M482.18 610.4V619.6"/>
<path d="M516.55 610.4V617.0"/>
<path d="M550.92 610.4V617.0"/>
<path d="M585.28 610.4V617.0"/>
<path d="M619.65 610.4V617.0"/>
<path d="M654.02 610.4V619.6"/>
<path d="M688.39 610.4V617.0"/>
<path d="M722.76 610.4V617.0"/>
<path d="M757.12 610.4V617.0"/>
<path d="M791.49 610.4V617.0"/>
<path d="M825.86 610.4V619.6"/>
<path d="M860.23 610.4V617.0"/>
<path d="M894.60 610.4V617.0"/>
<path d="M928.96 610.4V617.0"/>
<path d="M963.33 610.4V617.0"/>
<path d="M997.70 610.4V619.6"/>
</g>
<g font-family="'Liberation Serif','Times New Roman',serif" font-weight="bold" font-size="37.2" fill="#000" text-anchor="end">
<text x="107.2" y="621.6">0</text>
<text x="107.2" y="524.9">0.2</text>
<text x="107.2" y="428.1">0.4</text>
<text x="107.2" y="331.3">0.6</text>
<text x="107.2" y="234.6">0.8</text>
<text x="107.2" y="137.8">1</text>
<text x="107.2" y="41.1">1.2</text>
</g>
<g font-family="'Liberation Serif','Times New Roman',serif" font-weight="bold" font-size="37.2" fill="#000" text-anchor="middle">
<text x="138.8" y="664.0">0</text>
<text x="310.6" y="664.0">100</text>
<text x="482.5" y="664.0">200</text>
<text x="654.3" y="664.0">300</text>
<text x="826.2" y="664.0">400</text>
<text x="998.0" y="664.0">500</text>
</g>
<text font-family="'Liberation Serif','Times New Roman',serif" font-weight="bold" font-size="42" x="567.8" y="714.4" text-anchor="middle" textLength="278" lengthAdjust="spacingAndGlyphs">Frequency (Hz)</text>
<text font-family="'Liberation Serif','Times New Roman',serif" font-weight="bold" font-size="42.4" transform="translate(48.3 318.9) rotate(-90)" text-anchor="middle" textLength="397.5" lengthAdjust="spacingAndGlyphs">Amplitude (×g) (m/s<tspan font-size="27.5" dy="-13.5">2</tspan><tspan dy="13.5">)</tspan></text>
<rect x="158.4" y="40.4" width="175.5" height="60" fill="#fff" stroke="#000" stroke-width="1.6"/>
<text font-family="'Liberation Serif','Times New Roman',serif" font-weight="bold" font-size="48.6" x="246" y="87.5" text-anchor="middle" textLength="166.5" lengthAdjust="spacingAndGlyphs">AFL-IV</text>
<rect x="148.6" y="290.4" width="372" height="124.5" fill="#fff" stroke="#000" stroke-width="1.4"/>
<path d="M154.4 311.1H192.4" stroke="#0b2265" stroke-width="3.3" stroke-linecap="round" fill="none"/>
<path d="M154.1 353.3H194" stroke="#c00000" stroke-width="3.5" stroke-linecap="round" stroke-dasharray="0 7.27" fill="none"/>
<path d="M154.4 394.3H192.4" stroke="#ffc000" stroke-width="3.3" stroke-linecap="round" fill="none"/>
<g font-family="'Liberation Serif','Times New Roman',serif" font-weight="bold" font-size="24" fill="#000">
<text x="197" y="319.3" textLength="139.5" lengthAdjust="spacingAndGlyphs">Experimental</text>
<text x="197" y="361.2" textLength="285.5" lengthAdjust="spacingAndGlyphs">Simulated-With Point Mass</text>
<text x="197" y="402.4" textLength="318.6" lengthAdjust="spacingAndGlyphs">Simulated-Without Point Mass</text>
</g>
<g stroke="#4d4d4d" stroke-width="1.1" fill="none">
<path d="M203.7 473L207.7 494.2"/>
<path d="M192.2 563L203 572.7"/>
<path d="M213 594.7L224 574.9H232.8"/>
<path d="M540.5 108.6L563.5 125.3"/>
<path d="M605.5 83.3V122.4"/>
<path d="M625.1 127.4L630 104.7H635.7"/>
</g>
<g font-family="'Liberation Serif','Times New Roman',serif" font-weight="bold" font-size="27.3" fill="#000">
<text x="179.6" y="465.1">40.5</text>
<text x="176.0" y="554.1">38</text>
<text x="236.6" y="583.5">44</text>
<text x="519.2" y="100.8">248</text>
<text x="584.7" y="74.8">272</text>
<text x="640.2" y="114.6">283.5</text>
</g>
<g fill="none" stroke="#2a2a2a" stroke-width="1.55">
<path d="M1034.1 752.2V1.6H1546.5V397"/>
<path d="M1034.1 208.8H1546.5" stroke-width="1.8"/>
<path d="M1034.1 397.7H1544.3V574.8" stroke-width="1.6"/>
<path d="M1034.1 574.8H1545.4V752.2H1034.1" stroke-width="1.5"/>
</g>
<g font-family="'Liberation Sans',Arial,sans-serif" font-size="8.7" fill="#2a2a2a">
<text x="1038.2" y="13.4" textLength="75.8" lengthAdjust="spacingAndGlyphs" font-weight="bold" fill="#0a0a0a">L: Harmonic Response</text>
<text x="1038.2" y="23.3" textLength="60.1" lengthAdjust="spacingAndGlyphs">Total Deformation</text>
<text x="1038.2" y="33.2" textLength="79.2" lengthAdjust="spacingAndGlyphs">Type: Total Deformation</text>
<text x="1038.2" y="43.3" textLength="58.3" lengthAdjust="spacingAndGlyphs">Frequency: 38. Hz</text>
<text x="1038.2" y="53.2" textLength="67.8" lengthAdjust="spacingAndGlyphs">Sweeping Phase: 0. °</text>
<text x="1038.2" y="63.1" textLength="24.8" lengthAdjust="spacingAndGlyphs">Unit: m</text>
<text x="1038.2" y="73.3" textLength="49.8" lengthAdjust="spacingAndGlyphs">Max: 0.0051323</text>
<text x="1038.2" y="83.4" textLength="21.4" lengthAdjust="spacingAndGlyphs">Min: 0</text>
</g>
<rect x="1038.7" y="100.80" width="9.6" height="11.52" fill="#f40000"/>
<rect x="1038.7" y="112.02" width="9.6" height="11.52" fill="#f8a400"/>
<rect x="1038.7" y="123.24" width="9.6" height="11.52" fill="#f8f000"/>
<rect x="1038.7" y="134.47" width="9.6" height="11.52" fill="#a8f000"/>
<rect x="1038.7" y="145.69" width="9.6" height="11.52" fill="#00e400"/>
<rect x="1038.7" y="156.91" width="9.6" height="11.52" fill="#00e8a0"/>
<rect x="1038.7" y="168.13" width="9.6" height="11.52" fill="#00f0f0"/>
<rect x="1038.7" y="179.36" width="9.6" height="11.52" fill="#00a4f4"/>
<rect x="1038.7" y="190.58" width="9.6" height="11.52" fill="#0000f4"/>
<rect x="1038.7" y="100.8" width="9.6" height="101.0" fill="none" stroke="#302020" stroke-opacity=".7" stroke-width="0.9"/>
<path d="M1038.7 112.02H1048.3" stroke="#102010" stroke-opacity=".5" stroke-width="0.8"/>
<path d="M1038.7 123.24H1048.3" stroke="#102010" stroke-opacity=".5" stroke-width="0.8"/>
<path d="M1038.7 134.47H1048.3" stroke="#102010" stroke-opacity=".5" stroke-width="0.8"/>
<path d="M1038.7 145.69H1048.3" stroke="#102010" stroke-opacity=".5" stroke-width="0.8"/>
<path d="M1038.7 156.91H1048.3" stroke="#102010" stroke-opacity=".5" stroke-width="0.8"/>
<path d="M1038.7 168.13H1048.3" stroke="#102010" stroke-opacity=".5" stroke-width="0.8"/>
<path d="M1038.7 179.36H1048.3" stroke="#102010" stroke-opacity=".5" stroke-width="0.8"/>
<path d="M1038.7 190.58H1048.3" stroke="#102010" stroke-opacity=".5" stroke-width="0.8"/>
<g font-family="'Liberation Sans',Arial,sans-serif" font-size="8.4" fill="#2a2a2a">
<text x="1053.8" y="103.0" textLength="31.5" lengthAdjust="spacingAndGlyphs">0.0051323</text>
<text x="1053.8" y="114.2" textLength="28.0" lengthAdjust="spacingAndGlyphs">0.004562</text>
<text x="1053.8" y="125.4" textLength="31.5" lengthAdjust="spacingAndGlyphs">0.0039918</text>
<text x="1053.8" y="136.7" textLength="31.5" lengthAdjust="spacingAndGlyphs">0.0034215</text>
<text x="1053.8" y="147.9" textLength="31.5" lengthAdjust="spacingAndGlyphs">0.0028513</text>
<text x="1053.8" y="159.1" textLength="28.0" lengthAdjust="spacingAndGlyphs">0.002281</text>
<text x="1053.8" y="170.3" textLength="31.5" lengthAdjust="spacingAndGlyphs">0.0017108</text>
<text x="1053.8" y="181.6" textLength="31.5" lengthAdjust="spacingAndGlyphs">0.0011405</text>
<text x="1053.8" y="192.8" textLength="35.0" lengthAdjust="spacingAndGlyphs">0.00057025</text>
<text x="1053.8" y="204.0" textLength="3.5" lengthAdjust="spacingAndGlyphs">0</text>
</g>
<text font-family="'Liberation Serif','Times New Roman',serif" font-weight="bold" font-size="24.8" x="1137.3" y="32.8" textLength="303.2" lengthAdjust="spacingAndGlyphs" fill="#000">38 Hz (FE-With Point Mass)</text>
<rect x="1155.5" y="113.7" width="359.5" height="4.7" fill="#dfdfdf"/>
<linearGradient id="bg1" gradientUnits="userSpaceOnUse" x1="1155.8" y1="0" x2="1516" y2="0"><stop offset="0.0000" stop-color="#c80a0a"/><stop offset="0.0808" stop-color="#c80a0a"/><stop offset="0.0852" stop-color="#bf840c"/><stop offset="0.1646" stop-color="#bf840c"/><stop offset="0.1691" stop-color="#b9b80c"/><stop offset="0.2496" stop-color="#b9b80c"/><stop offset="0.2540" stop-color="#86ba0e"/><stop offset="0.3356" stop-color="#86ba0e"/><stop offset="0.3401" stop-color="#10b012"/><stop offset="0.4250" stop-color="#10b012"/><stop offset="0.4295" stop-color="#10b088"/><stop offset="0.5258" stop-color="#10b088"/><stop offset="0.5303" stop-color="#10a8b4"/><stop offset="0.6297" stop-color="#10a8b4"/><stop offset="0.6341" stop-color="#0f78b8"/><stop offset="0.7618" stop-color="#0f78b8"/><stop offset="0.7662" stop-color="#0808ac"/><stop offset="1.0000" stop-color="#0808ac"/></linearGradient>
<path d="M1155.80 95.70L1158.80 95.92L1161.80 96.13L1164.80 96.35L1167.80 96.56L1170.80 96.78L1173.80 96.99L1176.80 97.21L1179.80 97.43L1182.80 97.64L1185.80 97.86L1188.80 98.08L1191.80 98.30L1194.80 98.51L1197.80 98.73L1200.80 98.95L1203.80 99.17L1206.80 99.39L1209.80 99.60L1212.80 99.82L1215.80 100.04L1218.80 100.26L1221.80 100.48L1224.80 100.69L1227.80 100.91L1230.80 101.13L1233.80 101.35L1236.80 101.57L1239.80 101.79L1242.80 102.00L1245.80 102.22L1248.80 102.44L1251.80 102.66L1254.80 102.87L1257.80 103.09L1260.80 103.31L1263.80 103.52L1266.80 103.74L1269.80 103.96L1272.80 104.17L1275.80 104.39L1278.80 104.60L1281.80 104.81L1284.80 105.03L1287.80 105.24L1290.80 105.45L1293.80 105.66L1296.80 105.88L1299.80 106.09L1302.80 106.30L1305.80 106.50L1308.80 106.71L1311.80 106.92L1314.80 107.12L1317.80 107.33L1320.80 107.53L1323.80 107.74L1326.80 107.94L1329.80 108.14L1332.80 108.34L1335.80 108.54L1338.80 108.74L1341.80 108.93L1344.80 109.13L1347.80 109.32L1350.80 109.51L1353.80 109.70L1356.80 109.89L1359.80 110.08L1362.80 110.26L1365.80 110.45L1368.80 110.63L1371.80 110.81L1374.80 110.99L1377.80 111.16L1380.80 111.34L1383.80 111.51L1386.80 111.68L1389.80 111.85L1392.80 112.01L1395.80 112.18L1398.80 112.34L1401.80 112.50L1404.80 112.65L1407.80 112.81L1410.80 112.96L1413.80 113.11L1416.80 113.25L1419.80 113.40L1422.80 113.54L1425.80 113.67L1428.80 113.81L1431.80 113.94L1434.80 114.07L1437.80 114.19L1440.80 114.32L1443.80 114.43L1446.80 114.55L1449.80 114.66L1452.80 114.77L1455.80 114.87L1458.80 114.97L1461.80 115.07L1464.80 115.16L1467.80 115.25L1470.80 115.33L1473.80 115.41L1476.80 115.49L1479.80 115.56L1482.80 115.63L1485.80 115.69L1488.80 115.75L1491.80 115.80L1494.80 115.85L1497.80 115.89L1500.80 115.92L1503.80 115.94L1506.80 115.96L1509.80 115.97L1512.80 115.99L1514.20 116.00" fill="none" stroke="url(#bg1)" stroke-width="5.0" stroke-linecap="butt" stroke-linejoin="round"/>
<path d="M1128.2 91.5H1150.4L1154.1 94.6V99.2L1150.4 102.3H1128.2Z" fill="#f80808" stroke="#b00000" stroke-width="1" stroke-linejoin="round"/>
<circle cx="1155.2" cy="98.2" r="1.6" fill="#fff" stroke="#40303a" stroke-width="0.9"/>
<text font-family="'Liberation Sans',Arial,sans-serif" font-size="7.8" x="1130.8" y="100.5" fill="#ffe8e8" textLength="13.8" lengthAdjust="spacingAndGlyphs">Max</text>
<circle cx="1539.3" cy="118.9" r="1.6" fill="#c8c8c0" stroke="#484848" stroke-width="0.9"/>
<path d="M1514.2 112.4H1534.8L1537.7 115.5V120.6L1534.8 123.69999999999999H1514.2Z" fill="#1010f4" stroke="#0808b8" stroke-width="1" stroke-linejoin="round"/>
<text font-family="'Liberation Sans',Arial,sans-serif" font-size="7.8" x="1516.7" y="121.6" fill="#e8e8ff" textLength="12.8" lengthAdjust="spacingAndGlyphs">Min</text>
<g font-family="'Liberation Sans',Arial,sans-serif" font-size="8.0" fill="#2a2a2a">
<text x="1039.9" y="217.6" textLength="75.3" lengthAdjust="spacingAndGlyphs" font-weight="bold" fill="#0a0a0a">L: Harmonic Response</text>
<text x="1039.9" y="226.6" textLength="59.6" lengthAdjust="spacingAndGlyphs">Total Deformation</text>
<text x="1039.9" y="235.9" textLength="78.8" lengthAdjust="spacingAndGlyphs">Type: Total Deformation</text>
<text x="1039.9" y="245.1" textLength="61.6" lengthAdjust="spacingAndGlyphs">Frequency: 248. Hz</text>
<text x="1039.9" y="254.4" textLength="66.9" lengthAdjust="spacingAndGlyphs">Sweeping Phase: 0. °</text>
<text x="1039.9" y="263.7" textLength="23.9" lengthAdjust="spacingAndGlyphs">Unit: m</text>
<text x="1039.9" y="272.9" textLength="46.4" lengthAdjust="spacingAndGlyphs">Max: 0.007847</text>
<text x="1039.9" y="282.2" textLength="20.8" lengthAdjust="spacingAndGlyphs">Min: 0</text>
</g>
<rect x="1039.9" y="299.00" width="9.7" height="10.71" fill="#f40000"/>
<rect x="1039.9" y="309.41" width="9.7" height="10.71" fill="#f8a400"/>
<rect x="1039.9" y="319.82" width="9.7" height="10.71" fill="#f8f000"/>
<rect x="1039.9" y="330.23" width="9.7" height="10.71" fill="#a8f000"/>
<rect x="1039.9" y="340.64" width="9.7" height="10.71" fill="#00e400"/>
<rect x="1039.9" y="351.06" width="9.7" height="10.71" fill="#00e8a0"/>
<rect x="1039.9" y="361.47" width="9.7" height="10.71" fill="#00f0f0"/>
<rect x="1039.9" y="371.88" width="9.7" height="10.71" fill="#00a4f4"/>
<rect x="1039.9" y="382.29" width="9.7" height="10.71" fill="#0000f4"/>
<rect x="1039.9" y="299.0" width="9.7" height="93.7" fill="none" stroke="#302020" stroke-opacity=".7" stroke-width="0.9"/>
<path d="M1039.9 309.41H1049.6" stroke="#102010" stroke-opacity=".5" stroke-width="0.8"/>
<path d="M1039.9 319.82H1049.6" stroke="#102010" stroke-opacity=".5" stroke-width="0.8"/>
<path d="M1039.9 330.23H1049.6" stroke="#102010" stroke-opacity=".5" stroke-width="0.8"/>
<path d="M1039.9 340.64H1049.6" stroke="#102010" stroke-opacity=".5" stroke-width="0.8"/>
<path d="M1039.9 351.06H1049.6" stroke="#102010" stroke-opacity=".5" stroke-width="0.8"/>
<path d="M1039.9 361.47H1049.6" stroke="#102010" stroke-opacity=".5" stroke-width="0.8"/>
<path d="M1039.9 371.88H1049.6" stroke="#102010" stroke-opacity=".5" stroke-width="0.8"/>
<path d="M1039.9 382.29H1049.6" stroke="#102010" stroke-opacity=".5" stroke-width="0.8"/>
<g font-family="'Liberation Sans',Arial,sans-serif" font-size="7.9" fill="#2a2a2a">
<text x="1055.2" y="300.6" textLength="27.6" lengthAdjust="spacingAndGlyphs">0.007847</text>
<text x="1055.2" y="311.0" textLength="31.1" lengthAdjust="spacingAndGlyphs">0.0069751</text>
<text x="1055.2" y="321.4" textLength="31.1" lengthAdjust="spacingAndGlyphs">0.0061032</text>
<text x="1055.2" y="331.8" textLength="31.1" lengthAdjust="spacingAndGlyphs">0.0052313</text>
<text x="1055.2" y="342.2" textLength="31.1" lengthAdjust="spacingAndGlyphs">0.0043594</text>
<text x="1055.2" y="352.7" textLength="31.1" lengthAdjust="spacingAndGlyphs">0.0034875</text>
<text x="1055.2" y="363.1" textLength="31.1" lengthAdjust="spacingAndGlyphs">0.0026157</text>
<text x="1055.2" y="373.5" textLength="31.1" lengthAdjust="spacingAndGlyphs">0.0017438</text>
<text x="1055.2" y="383.9" textLength="34.5" lengthAdjust="spacingAndGlyphs">0.00087188</text>
<text x="1055.2" y="394.3" textLength="3.5" lengthAdjust="spacingAndGlyphs">0</text>
</g>
<text font-family="'Liberation Serif','Times New Roman',serif" font-weight="bold" font-size="24.8" x="1144.6" y="242.7" textLength="315.5" lengthAdjust="spacingAndGlyphs" fill="#000">248 Hz (FE-With Point Mass)</text>
<rect x="1156.5" y="310.5" width="359.5" height="4.7" fill="#dfdfdf"/>
<linearGradient id="bg2" gradientUnits="userSpaceOnUse" x1="1156.7" y1="0" x2="1517" y2="0"><stop offset="0.0000" stop-color="#c80a0a"/><stop offset="0.0142" stop-color="#c80a0a"/><stop offset="0.0186" stop-color="#bf840c"/><stop offset="0.0339" stop-color="#bf840c"/><stop offset="0.0383" stop-color="#b9b80c"/><stop offset="0.0538" stop-color="#b9b80c"/><stop offset="0.0583" stop-color="#86ba0e"/><stop offset="0.0755" stop-color="#86ba0e"/><stop offset="0.0799" stop-color="#10b012"/><stop offset="0.1010" stop-color="#10b012"/><stop offset="0.1055" stop-color="#10b088"/><stop offset="0.1288" stop-color="#10b088"/><stop offset="0.1332" stop-color="#10a8b4"/><stop offset="0.1485" stop-color="#10a8b4"/><stop offset="0.1529" stop-color="#0f78b8"/><stop offset="0.1601" stop-color="#0f78b8"/><stop offset="0.1646" stop-color="#0808ac"/><stop offset="0.2015" stop-color="#0808ac"/><stop offset="0.2059" stop-color="#0f78b8"/><stop offset="0.2234" stop-color="#0f78b8"/><stop offset="0.2279" stop-color="#10a8b4"/><stop offset="0.2456" stop-color="#10a8b4"/><stop offset="0.2501" stop-color="#10b088"/><stop offset="0.2745" stop-color="#10b088"/><stop offset="0.2789" stop-color="#10b012"/><stop offset="0.3061" stop-color="#10b012"/><stop offset="0.3106" stop-color="#86ba0e"/><stop offset="0.3417" stop-color="#86ba0e"/><stop offset="0.3461" stop-color="#b9b80c"/><stop offset="0.3772" stop-color="#b9b80c"/><stop offset="0.3816" stop-color="#bf840c"/><stop offset="0.4266" stop-color="#bf840c"/><stop offset="0.4310" stop-color="#c80a0a"/><stop offset="0.6456" stop-color="#c80a0a"/><stop offset="0.6500" stop-color="#bf840c"/><stop offset="0.7019" stop-color="#bf840c"/><stop offset="0.7064" stop-color="#b9b80c"/><stop offset="0.7452" stop-color="#b9b80c"/><stop offset="0.7497" stop-color="#86ba0e"/><stop offset="0.7888" stop-color="#86ba0e"/><stop offset="0.7932" stop-color="#10b012"/><stop offset="0.8243" stop-color="#10b012"/><stop offset="0.8288" stop-color="#10b088"/><stop offset="0.8673" stop-color="#10b088"/><stop offset="0.8718" stop-color="#10a8b4"/><stop offset="0.9070" stop-color="#10a8b4"/><stop offset="0.9115" stop-color="#0f78b8"/><stop offset="0.9545" stop-color="#0f78b8"/><stop offset="0.9589" stop-color="#0808ac"/><stop offset="1.0000" stop-color="#0808ac"/></linearGradient>
<path d="M1156.70 331.20L1159.70 330.24L1162.70 329.27L1165.70 328.29L1168.70 327.32L1171.70 326.37L1174.70 325.45L1177.70 324.57L1180.70 323.71L1183.70 322.87L1186.70 322.05L1189.70 321.25L1192.70 320.45L1195.70 319.67L1198.70 318.89L1201.70 318.12L1204.70 317.35L1207.70 316.59L1210.70 315.85L1213.70 315.12L1216.70 314.39L1219.70 313.65L1222.70 312.90L1225.70 312.12L1228.70 311.33L1231.70 310.53L1234.70 309.72L1237.70 308.92L1240.70 308.12L1243.70 307.35L1246.70 306.59L1249.70 305.86L1252.70 305.13L1255.70 304.39L1258.70 303.67L1261.70 302.96L1264.70 302.26L1267.70 301.60L1270.70 300.97L1273.70 300.38L1276.70 299.83L1279.70 299.31L1282.70 298.79L1285.70 298.29L1288.70 297.81L1291.70 297.35L1294.70 296.93L1297.70 296.54L1300.70 296.19L1303.70 295.90L1306.70 295.64L1309.70 295.41L1312.70 295.20L1315.70 295.01L1318.70 294.83L1321.70 294.68L1324.70 294.54L1327.70 294.41L1330.70 294.29L1333.70 294.18L1336.70 294.07L1339.70 293.96L1342.70 293.88L1345.70 293.83L1348.70 293.80L1351.70 293.81L1354.70 293.83L1357.70 293.88L1360.70 293.93L1363.70 294.00L1366.70 294.08L1369.70 294.17L1372.70 294.29L1375.70 294.47L1378.70 294.71L1381.70 295.00L1384.70 295.30L1387.70 295.62L1390.70 295.92L1393.70 296.22L1396.70 296.54L1399.70 296.87L1402.70 297.21L1405.70 297.57L1408.70 297.93L1411.70 298.30L1414.70 298.68L1417.70 299.07L1420.70 299.47L1423.70 299.88L1426.70 300.30L1429.70 300.73L1432.70 301.17L1435.70 301.61L1438.70 302.05L1441.70 302.50L1444.70 302.96L1447.70 303.43L1450.70 303.92L1453.70 304.42L1456.70 304.91L1459.70 305.40L1462.70 305.89L1465.70 306.35L1468.70 306.80L1471.70 307.22L1474.70 307.64L1477.70 308.05L1480.70 308.46L1483.70 308.85L1486.70 309.24L1489.70 309.61L1492.70 309.96L1495.70 310.30L1498.70 310.61L1501.70 310.90L1504.70 311.17L1507.70 311.43L1510.70 311.67L1513.70 311.92L1516.70 312.17L1517.00 312.20" fill="none" stroke="url(#bg2)" stroke-width="4.8" stroke-linecap="butt" stroke-linejoin="round"/>
<path d="M1128.8 328.7H1150.6L1154.5 331.8V336.2L1150.6 339.3H1128.8Z" fill="#f80808" stroke="#b00000" stroke-width="1" stroke-linejoin="round"/>
<circle cx="1156.2" cy="334.7" r="1.6" fill="#fff" stroke="#40303a" stroke-width="0.9"/>
<text font-family="'Liberation Sans',Arial,sans-serif" font-size="7.8" x="1131.4" y="337.6" fill="#ffe8e8" textLength="13.8" lengthAdjust="spacingAndGlyphs">Max</text>
<circle cx="1540.8" cy="315.1" r="1.6" fill="#c8c8c0" stroke="#484848" stroke-width="0.9"/>
<path d="M1515.6 309.5H1536.2L1539.2 312.4V317.2L1536.2 320.1H1515.6Z" fill="#1010f4" stroke="#0808b8" stroke-width="1" stroke-linejoin="round"/>
<text font-family="'Liberation Sans',Arial,sans-serif" font-size="7.8" x="1518.1" y="318.4" fill="#e8e8ff" textLength="12.8" lengthAdjust="spacingAndGlyphs">Min</text>
<g font-family="'Liberation Sans',Arial,sans-serif" font-size="7.6" fill="#2a2a2a">
<text x="1039.9" y="408" textLength="94.1" lengthAdjust="spacingAndGlyphs" font-weight="bold" fill="#0a0a0a">L: Harmonic Response-AFL-IV</text>
<text x="1039.9" y="416.2" textLength="55.0" lengthAdjust="spacingAndGlyphs">Total Deformation</text>
<text x="1039.9" y="425.2" textLength="72.9" lengthAdjust="spacingAndGlyphs">Type: Total Deformation</text>
<text x="1039.9" y="434.1" textLength="53.7" lengthAdjust="spacingAndGlyphs">Frequency: 44. Hz</text>
<text x="1039.9" y="442.7" textLength="62.3" lengthAdjust="spacingAndGlyphs">Sweeping Phase: 0. °</text>
<text x="1039.9" y="451.3" textLength="22.1" lengthAdjust="spacingAndGlyphs">Unit: m</text>
<text x="1039.9" y="459.9" textLength="42.8" lengthAdjust="spacingAndGlyphs">Max: 0.011807</text>
<text x="1039.9" y="468.5" textLength="19.5" lengthAdjust="spacingAndGlyphs">Min: 0</text>
</g>
<rect x="1039.9" y="484.00" width="8.9" height="9.90" fill="#f40000"/>
<rect x="1039.9" y="493.60" width="8.9" height="9.90" fill="#f8a400"/>
<rect x="1039.9" y="503.20" width="8.9" height="9.90" fill="#f8f000"/>
<rect x="1039.9" y="512.80" width="8.9" height="9.90" fill="#a8f000"/>
<rect x="1039.9" y="522.40" width="8.9" height="9.90" fill="#00e400"/>
<rect x="1039.9" y="532.00" width="8.9" height="9.90" fill="#00e8a0"/>
<rect x="1039.9" y="541.60" width="8.9" height="9.90" fill="#00f0f0"/>
<rect x="1039.9" y="551.20" width="8.9" height="9.90" fill="#00a4f4"/>
<rect x="1039.9" y="560.80" width="8.9" height="9.90" fill="#0000f4"/>
<rect x="1039.9" y="484.0" width="8.9" height="86.4" fill="none" stroke="#302020" stroke-opacity=".7" stroke-width="0.9"/>
<path d="M1039.9 493.60H1048.8" stroke="#102010" stroke-opacity=".5" stroke-width="0.8"/>
<path d="M1039.9 503.20H1048.8" stroke="#102010" stroke-opacity=".5" stroke-width="0.8"/>
<path d="M1039.9 512.80H1048.8" stroke="#102010" stroke-opacity=".5" stroke-width="0.8"/>
<path d="M1039.9 522.40H1048.8" stroke="#102010" stroke-opacity=".5" stroke-width="0.8"/>
<path d="M1039.9 532.00H1048.8" stroke="#102010" stroke-opacity=".5" stroke-width="0.8"/>
<path d="M1039.9 541.60H1048.8" stroke="#102010" stroke-opacity=".5" stroke-width="0.8"/>
<path d="M1039.9 551.20H1048.8" stroke="#102010" stroke-opacity=".5" stroke-width="0.8"/>
<path d="M1039.9 560.80H1048.8" stroke="#102010" stroke-opacity=".5" stroke-width="0.8"/>
<g font-family="'Liberation Sans',Arial,sans-serif" font-size="7.5" fill="#2a2a2a">
<text x="1053.8" y="485.7" textLength="26.2" lengthAdjust="spacingAndGlyphs">0.011807</text>
<text x="1053.8" y="495.3" textLength="26.2" lengthAdjust="spacingAndGlyphs">0.010495</text>
<text x="1053.8" y="504.9" textLength="29.5" lengthAdjust="spacingAndGlyphs">0.0091829</text>
<text x="1053.8" y="514.5" textLength="26.2" lengthAdjust="spacingAndGlyphs">0.007871</text>
<text x="1053.8" y="524.1" textLength="29.5" lengthAdjust="spacingAndGlyphs">0.0065592</text>
<text x="1053.8" y="533.7" textLength="29.5" lengthAdjust="spacingAndGlyphs">0.0052473</text>
<text x="1053.8" y="543.3" textLength="29.5" lengthAdjust="spacingAndGlyphs">0.0039355</text>
<text x="1053.8" y="552.9" textLength="29.5" lengthAdjust="spacingAndGlyphs">0.0026237</text>
<text x="1053.8" y="562.5" textLength="29.5" lengthAdjust="spacingAndGlyphs">0.0013118</text>
<text x="1053.8" y="572.1" textLength="3.3" lengthAdjust="spacingAndGlyphs">0</text>
</g>
<text font-family="'Liberation Serif','Times New Roman',serif" font-weight="bold" font-size="24.8" x="1152.5" y="434.5" textLength="338.4" lengthAdjust="spacingAndGlyphs" fill="#000">44 Hz (FE-Without Point Mass)</text>
<rect x="1153" y="486.6" width="362.0" height="4.2" fill="#dfdfdf"/>
<linearGradient id="bg3" gradientUnits="userSpaceOnUse" x1="1153.4" y1="0" x2="1516" y2="0"><stop offset="0.0000" stop-color="#c80a0a"/><stop offset="0.0822" stop-color="#c80a0a"/><stop offset="0.0866" stop-color="#bf840c"/><stop offset="0.1674" stop-color="#bf840c"/><stop offset="0.1718" stop-color="#b9b80c"/><stop offset="0.2546" stop-color="#b9b80c"/><stop offset="0.2590" stop-color="#86ba0e"/><stop offset="0.3428" stop-color="#86ba0e"/><stop offset="0.3472" stop-color="#10b012"/><stop offset="0.4349" stop-color="#10b012"/><stop offset="0.4393" stop-color="#10b088"/><stop offset="0.5345" stop-color="#10b088"/><stop offset="0.5389" stop-color="#10a8b4"/><stop offset="0.6382" stop-color="#10a8b4"/><stop offset="0.6426" stop-color="#0f78b8"/><stop offset="0.7714" stop-color="#0f78b8"/><stop offset="0.7758" stop-color="#0808ac"/><stop offset="1.0000" stop-color="#0808ac"/></linearGradient>
<path d="M1153.40 471.10L1156.40 471.29L1159.40 471.48L1162.40 471.67L1165.40 471.86L1168.40 472.05L1171.40 472.24L1174.40 472.43L1177.40 472.62L1180.40 472.81L1183.40 473.00L1186.40 473.19L1189.40 473.38L1192.40 473.58L1195.40 473.77L1198.40 473.96L1201.40 474.15L1204.40 474.34L1207.40 474.53L1210.40 474.72L1213.40 474.91L1216.40 475.10L1219.40 475.29L1222.40 475.48L1225.40 475.67L1228.40 475.86L1231.40 476.05L1234.40 476.24L1237.40 476.43L1240.40 476.62L1243.40 476.81L1246.40 477.00L1249.40 477.19L1252.40 477.38L1255.40 477.57L1258.40 477.75L1261.40 477.94L1264.40 478.13L1267.40 478.31L1270.40 478.50L1273.40 478.68L1276.40 478.87L1279.40 479.05L1282.40 479.24L1285.40 479.42L1288.40 479.60L1291.40 479.78L1294.40 479.96L1297.40 480.15L1300.40 480.32L1303.40 480.50L1306.40 480.68L1309.40 480.86L1312.40 481.03L1315.40 481.21L1318.40 481.38L1321.40 481.56L1324.40 481.73L1327.40 481.90L1330.40 482.07L1333.40 482.24L1336.40 482.40L1339.40 482.57L1342.40 482.73L1345.40 482.90L1348.40 483.06L1351.40 483.22L1354.40 483.38L1357.40 483.54L1360.40 483.69L1363.40 483.85L1366.40 484.00L1369.40 484.15L1372.40 484.30L1375.40 484.45L1378.40 484.59L1381.40 484.73L1384.40 484.88L1387.40 485.02L1390.40 485.15L1393.40 485.29L1396.40 485.42L1399.40 485.55L1402.40 485.68L1405.40 485.81L1408.40 485.94L1411.40 486.06L1414.40 486.18L1417.40 486.30L1420.40 486.41L1423.40 486.52L1426.40 486.63L1429.40 486.74L1432.40 486.84L1435.40 486.94L1438.40 487.04L1441.40 487.14L1444.40 487.23L1447.40 487.32L1450.40 487.41L1453.40 487.49L1456.40 487.57L1459.40 487.65L1462.40 487.72L1465.40 487.79L1468.40 487.86L1471.40 487.92L1474.40 487.98L1477.40 488.04L1480.40 488.09L1483.40 488.14L1486.40 488.19L1489.40 488.23L1492.40 488.27L1495.40 488.30L1498.40 488.33L1501.40 488.35L1504.40 488.36L1507.40 488.37L1510.40 488.38L1513.40 488.40L1514.50 488.40" fill="none" stroke="url(#bg3)" stroke-width="4.7" stroke-linecap="butt" stroke-linejoin="round"/>
<path d="M1125.4 467.5H1147.7L1151.6 470.1V474.0L1147.7 476.6H1125.4Z" fill="#f80808" stroke="#b00000" stroke-width="1" stroke-linejoin="round"/>
<circle cx="1152.7" cy="473.5" r="1.6" fill="#fff" stroke="#40303a" stroke-width="0.9"/>
<text font-family="'Liberation Sans',Arial,sans-serif" font-size="7.8" x="1128.0" y="475.7" fill="#ffe8e8" textLength="13.8" lengthAdjust="spacingAndGlyphs">Max</text>
<circle cx="1539.8" cy="490.8" r="1.6" fill="#c8c8c0" stroke="#484848" stroke-width="0.9"/>
<path d="M1514.5 485.7H1534.8L1538.0 488.2V492.6L1534.8 495.1H1514.5Z" fill="#1010f4" stroke="#0808b8" stroke-width="1" stroke-linejoin="round"/>
<text font-family="'Liberation Sans',Arial,sans-serif" font-size="7.8" x="1517.0" y="494.0" fill="#e8e8ff" textLength="12.8" lengthAdjust="spacingAndGlyphs">Min</text>
<g font-family="'Liberation Sans',Arial,sans-serif" font-size="7.8" fill="#2a2a2a">
<text x="1035.3" y="580.9" textLength="85.4" lengthAdjust="spacingAndGlyphs" font-weight="bold" fill="#0a0a0a">L: Harmonic Response-AFL-</text>
<text x="1035.3" y="589.6" textLength="55.0" lengthAdjust="spacingAndGlyphs">Total Deformation</text>
<text x="1035.3" y="598.5" textLength="73.1" lengthAdjust="spacingAndGlyphs">Type: Total Deformation</text>
<text x="1035.3" y="607.5" textLength="56.7" lengthAdjust="spacingAndGlyphs">Frequency: 272. Hz</text>
<text x="1035.3" y="616.4" textLength="62.2" lengthAdjust="spacingAndGlyphs">Sweeping Phase: 0. °</text>
<text x="1035.3" y="625.2" textLength="22.5" lengthAdjust="spacingAndGlyphs">Unit: m</text>
<text x="1035.3" y="634.2" textLength="43.0" lengthAdjust="spacingAndGlyphs">Max: 0.012196</text>
<text x="1035.3" y="643.1" textLength="19.2" lengthAdjust="spacingAndGlyphs">Min: 0</text>
</g>
<rect x="1035.0" y="659.70" width="8.7" height="10.18" fill="#f40000"/>
<rect x="1035.0" y="669.58" width="8.7" height="10.18" fill="#f8a400"/>
<rect x="1035.0" y="679.46" width="8.7" height="10.18" fill="#f8f000"/>
<rect x="1035.0" y="689.33" width="8.7" height="10.18" fill="#a8f000"/>
<rect x="1035.0" y="699.21" width="8.7" height="10.18" fill="#00e400"/>
<rect x="1035.0" y="709.09" width="8.7" height="10.18" fill="#00e8a0"/>
<rect x="1035.0" y="718.97" width="8.7" height="10.18" fill="#00f0f0"/>
<rect x="1035.0" y="728.84" width="8.7" height="10.18" fill="#00a4f4"/>
<rect x="1035.0" y="738.72" width="8.7" height="10.18" fill="#0000f4"/>
<rect x="1035.0" y="659.7" width="8.7" height="88.9" fill="none" stroke="#302020" stroke-opacity=".7" stroke-width="0.9"/>
<path d="M1035.0 669.58H1043.7" stroke="#102010" stroke-opacity=".5" stroke-width="0.8"/>
<path d="M1035.0 679.46H1043.7" stroke="#102010" stroke-opacity=".5" stroke-width="0.8"/>
<path d="M1035.0 689.33H1043.7" stroke="#102010" stroke-opacity=".5" stroke-width="0.8"/>
<path d="M1035.0 699.21H1043.7" stroke="#102010" stroke-opacity=".5" stroke-width="0.8"/>
<path d="M1035.0 709.09H1043.7" stroke="#102010" stroke-opacity=".5" stroke-width="0.8"/>
<path d="M1035.0 718.97H1043.7" stroke="#102010" stroke-opacity=".5" stroke-width="0.8"/>
<path d="M1035.0 728.84H1043.7" stroke="#102010" stroke-opacity=".5" stroke-width="0.8"/>
<path d="M1035.0 738.72H1043.7" stroke="#102010" stroke-opacity=".5" stroke-width="0.8"/>
<g font-family="'Liberation Sans',Arial,sans-serif" font-size="7.7" fill="#2a2a2a">
<text x="1049.2" y="661.1" textLength="26.0" lengthAdjust="spacingAndGlyphs">0.012196</text>
<text x="1049.2" y="671.0" textLength="26.0" lengthAdjust="spacingAndGlyphs">0.010841</text>
<text x="1049.2" y="680.9" textLength="29.2" lengthAdjust="spacingAndGlyphs">0.0094856</text>
<text x="1049.2" y="690.7" textLength="29.2" lengthAdjust="spacingAndGlyphs">0.0081305</text>
<text x="1049.2" y="700.6" textLength="29.2" lengthAdjust="spacingAndGlyphs">0.0067754</text>
<text x="1049.2" y="710.5" textLength="29.2" lengthAdjust="spacingAndGlyphs">0.0054203</text>
<text x="1049.2" y="720.4" textLength="29.2" lengthAdjust="spacingAndGlyphs">0.0040653</text>
<text x="1049.2" y="730.2" textLength="29.2" lengthAdjust="spacingAndGlyphs">0.0027102</text>
<text x="1049.2" y="740.1" textLength="29.2" lengthAdjust="spacingAndGlyphs">0.0013551</text>
<text x="1049.2" y="750.0" textLength="3.2" lengthAdjust="spacingAndGlyphs">0</text>
</g>
<text font-family="'Liberation Serif','Times New Roman',serif" font-weight="bold" font-size="24.8" x="1151.4" y="608.4" textLength="351" lengthAdjust="spacingAndGlyphs" fill="#000">272 Hz (FE-Without Point Mass)</text>
<rect x="1153.8" y="662.0" width="362.2" height="4.3" fill="#dfdfdf"/>
<linearGradient id="bg4" gradientUnits="userSpaceOnUse" x1="1153.4" y1="0" x2="1517" y2="0"><stop offset="0.0000" stop-color="#c80a0a"/><stop offset="0.0212" stop-color="#c80a0a"/><stop offset="0.0256" stop-color="#bf840c"/><stop offset="0.0426" stop-color="#bf840c"/><stop offset="0.0470" stop-color="#b9b80c"/><stop offset="0.0701" stop-color="#b9b80c"/><stop offset="0.0745" stop-color="#86ba0e"/><stop offset="0.0935" stop-color="#86ba0e"/><stop offset="0.0979" stop-color="#10b012"/><stop offset="0.1249" stop-color="#10b012"/><stop offset="0.1293" stop-color="#10b088"/><stop offset="0.1562" stop-color="#10b088"/><stop offset="0.1606" stop-color="#10a8b4"/><stop offset="0.1796" stop-color="#10a8b4"/><stop offset="0.1840" stop-color="#0f78b8"/><stop offset="0.1972" stop-color="#0f78b8"/><stop offset="0.2016" stop-color="#0808ac"/><stop offset="0.2539" stop-color="#0808ac"/><stop offset="0.2583" stop-color="#0f78b8"/><stop offset="0.2852" stop-color="#0f78b8"/><stop offset="0.2896" stop-color="#10a8b4"/><stop offset="0.3201" stop-color="#10a8b4"/><stop offset="0.3245" stop-color="#10b088"/><stop offset="0.3553" stop-color="#10b088"/><stop offset="0.3597" stop-color="#10b012"/><stop offset="0.4024" stop-color="#10b012"/><stop offset="0.4068" stop-color="#86ba0e"/><stop offset="0.4689" stop-color="#86ba0e"/><stop offset="0.4733" stop-color="#b9b80c"/><stop offset="0.6579" stop-color="#b9b80c"/><stop offset="0.6623" stop-color="#86ba0e"/><stop offset="0.7283" stop-color="#86ba0e"/><stop offset="0.7327" stop-color="#10b012"/><stop offset="0.7830" stop-color="#10b012"/><stop offset="0.7874" stop-color="#10b088"/><stop offset="0.8377" stop-color="#10b088"/><stop offset="0.8421" stop-color="#10a8b4"/><stop offset="0.8845" stop-color="#10a8b4"/><stop offset="0.8889" stop-color="#0f78b8"/><stop offset="0.9411" stop-color="#0f78b8"/><stop offset="0.9455" stop-color="#0808ac"/><stop offset="1.0000" stop-color="#0808ac"/></linearGradient>
<path d="M1153.40 681.90L1156.40 681.07L1159.40 680.22L1162.40 679.36L1165.40 678.51L1168.40 677.68L1171.40 676.87L1174.40 676.10L1177.40 675.38L1180.40 674.71L1183.40 674.08L1186.40 673.47L1189.40 672.87L1192.40 672.30L1195.40 671.73L1198.40 671.15L1201.40 670.57L1204.40 669.98L1207.40 669.37L1210.40 668.75L1213.40 668.12L1216.40 667.49L1219.40 666.86L1222.40 666.23L1225.40 665.61L1228.40 664.99L1231.40 664.39L1234.40 663.80L1237.40 663.23L1240.40 662.68L1243.40 662.13L1246.40 661.60L1249.40 661.07L1252.40 660.55L1255.40 660.04L1258.40 659.53L1261.40 659.02L1264.40 658.50L1267.40 657.97L1270.40 657.44L1273.40 656.90L1276.40 656.37L1279.40 655.86L1282.40 655.37L1285.40 654.91L1288.40 654.48L1291.40 654.10L1294.40 653.73L1297.40 653.38L1300.40 653.03L1303.40 652.70L1306.40 652.39L1309.40 652.10L1312.40 651.85L1315.40 651.62L1318.40 651.43L1321.40 651.27L1324.40 651.13L1327.40 650.99L1330.40 650.87L1333.40 650.77L1336.40 650.68L1339.40 650.61L1342.40 650.56L1345.40 650.51L1348.40 650.46L1351.40 650.43L1354.40 650.40L1357.40 650.40L1360.40 650.43L1363.40 650.48L1366.40 650.55L1369.40 650.65L1372.40 650.76L1375.40 650.88L1378.40 651.01L1381.40 651.14L1384.40 651.28L1387.40 651.42L1390.40 651.60L1393.40 651.81L1396.40 652.03L1399.40 652.28L1402.40 652.53L1405.40 652.80L1408.40 653.07L1411.40 653.33L1414.40 653.60L1417.40 653.86L1420.40 654.14L1423.40 654.42L1426.40 654.71L1429.40 655.00L1432.40 655.31L1435.40 655.62L1438.40 655.94L1441.40 656.27L1444.40 656.61L1447.40 656.99L1450.40 657.38L1453.40 657.79L1456.40 658.20L1459.40 658.61L1462.40 659.00L1465.40 659.38L1468.40 659.72L1471.40 660.03L1474.40 660.32L1477.40 660.60L1480.40 660.87L1483.40 661.12L1486.40 661.37L1489.40 661.61L1492.40 661.84L1495.40 662.06L1498.40 662.29L1501.40 662.50L1504.40 662.70L1507.40 662.89L1510.40 663.08L1513.40 663.27L1516.40 663.46L1517.00 663.50" fill="none" stroke="url(#bg4)" stroke-width="4.4" stroke-linecap="butt" stroke-linejoin="round"/>
<path d="M1125.4 679.1999999999999H1148.1L1152.0 682.1V686.4L1148.1 689.3000000000001H1125.4Z" fill="#f80808" stroke="#b00000" stroke-width="1" stroke-linejoin="round"/>
<circle cx="1153.0" cy="685.0" r="1.6" fill="#fff" stroke="#40303a" stroke-width="0.9"/>
<text font-family="'Liberation Sans',Arial,sans-serif" font-size="7.8" x="1128.0" y="687.9" fill="#ffe8e8" textLength="13.8" lengthAdjust="spacingAndGlyphs">Max</text>
<circle cx="1541.3" cy="665.8" r="1.6" fill="#c8c8c0" stroke="#484848" stroke-width="0.9"/>
<path d="M1515.6 660.6999999999999H1536.2L1539.4 663.4V668.1L1536.2 670.8000000000001H1515.6Z" fill="#1010f4" stroke="#0808b8" stroke-width="1" stroke-linejoin="round"/>
<text font-family="'Liberation Sans',Arial,sans-serif" font-size="7.8" x="1518.1" y="669.4" fill="#e8e8ff" textLength="12.8" lengthAdjust="spacingAndGlyphs">Min</text>
</svg>
</body>
</html>
